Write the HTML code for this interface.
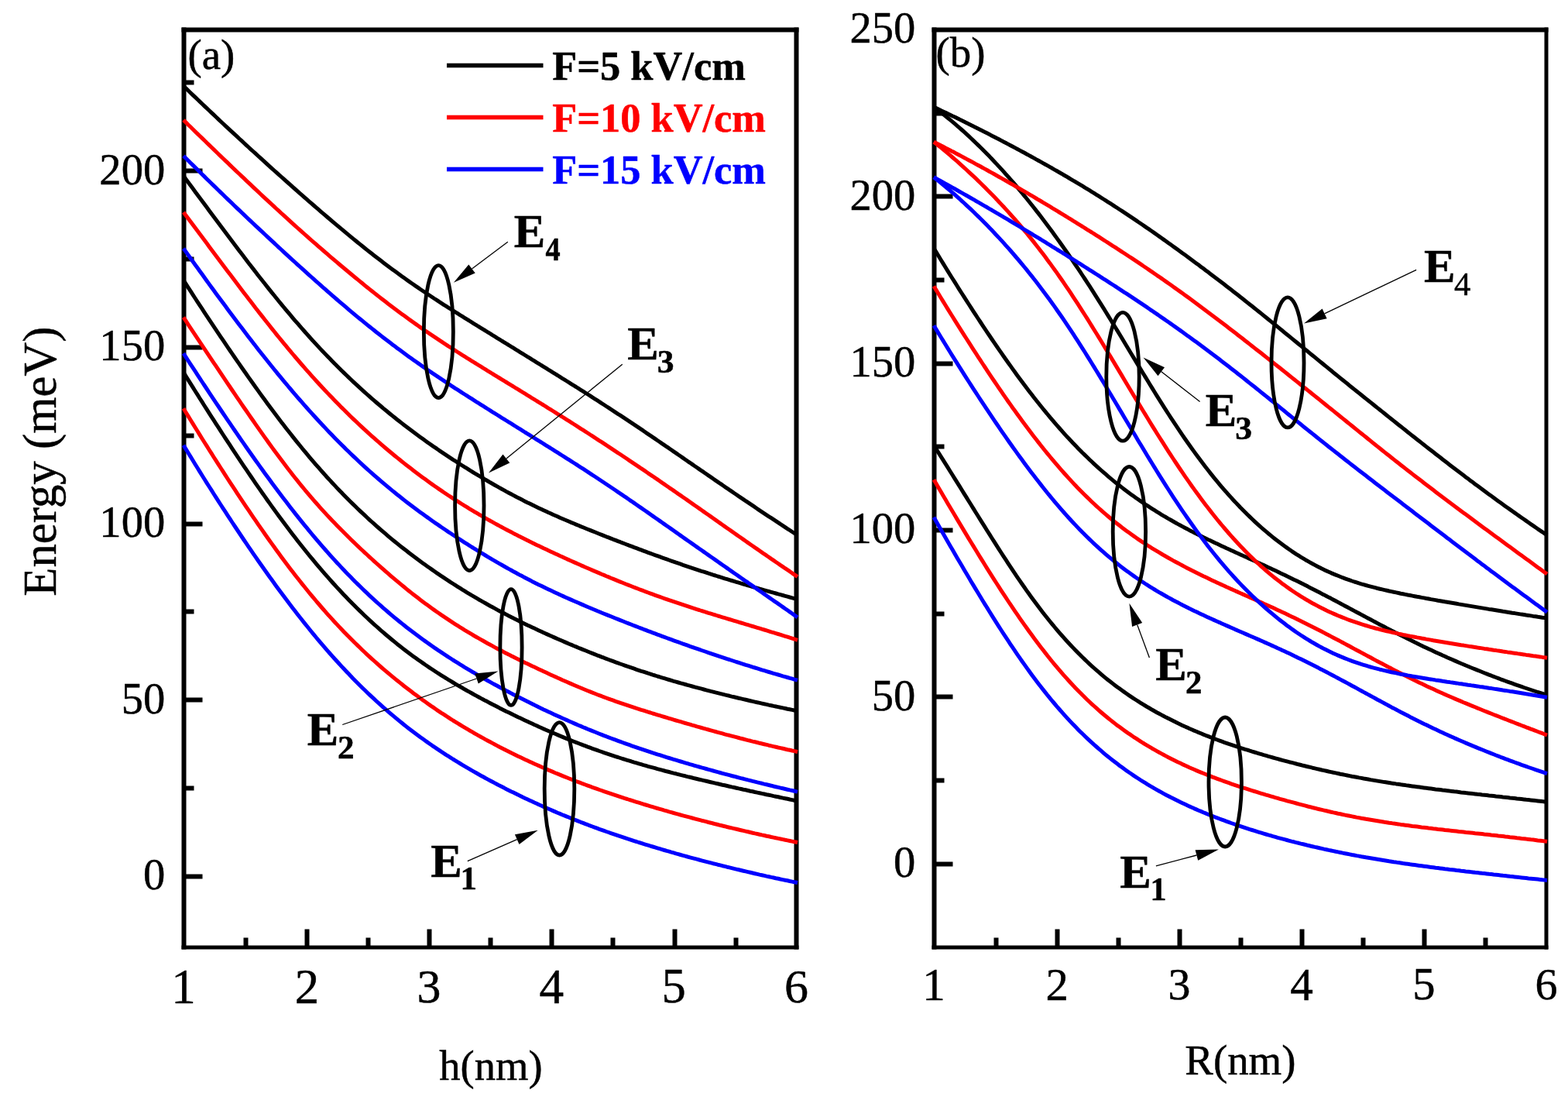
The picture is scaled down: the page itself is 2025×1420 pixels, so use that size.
<!DOCTYPE html>
<html lang="en"><head><meta charset="utf-8"><title>Energy levels versus h and R</title>
<style>html,body{margin:0;padding:0;background:#fff}body{width:2025px;height:1420px;overflow:hidden}svg{display:block}text{font-family:"Liberation Serif","Times New Roman",serif;stroke-width:0.5px;stroke-linejoin:round}</style></head><body>
<svg xmlns="http://www.w3.org/2000/svg" width="2025" height="1420" viewBox="0 0 2025 1420">
<rect width="2025" height="1420" fill="#fff"/>
<g stroke="#000">
<rect x="235" y="36" width="5" height="1189" fill="#000"/>
<rect x="1026" y="36" width="5" height="1189" fill="#000"/>
<rect x="235" y="36" width="796" height="5" fill="#000"/>
<rect x="235" y="1221" width="796" height="4" fill="#000"/>
<text transform="translate(221.28,1294.60) scale(1.0000,1.0000)" font-size="63.03" font-weight="normal" fill="#000">1</text>
<rect x="315" y="1211" width="5" height="11" fill="#000"/>
<rect x="394" y="1200" width="5" height="22" fill="#000"/>
<text transform="translate(380.72,1294.60) scale(1.0000,1.0000)" font-size="62.79" font-weight="normal" fill="#000">2</text>
<rect x="473" y="1211" width="5" height="11" fill="#000"/>
<rect x="552" y="1200" width="5" height="22" fill="#000"/>
<text transform="translate(538.60,1293.98) scale(1.0000,1.0000)" font-size="61.86" font-weight="normal" fill="#000">3</text>
<rect x="631" y="1211" width="5" height="11" fill="#000"/>
<rect x="710" y="1200" width="5" height="22" fill="#000"/>
<text transform="translate(696.52,1294.60) scale(1.0000,1.0000)" font-size="63.27" font-weight="normal" fill="#000">4</text>
<rect x="789" y="1211" width="5" height="11" fill="#000"/>
<rect x="869" y="1200" width="5" height="22" fill="#000"/>
<text transform="translate(854.51,1293.97) scale(1.0000,1.0000)" font-size="62.56" font-weight="normal" fill="#000">5</text>
<rect x="948" y="1211" width="5" height="11" fill="#000"/>
<text transform="translate(1013.05,1293.98) scale(1.0000,1.0000)" font-size="61.86" font-weight="normal" fill="#000">6</text>
<rect x="239" y="1129" width="22" height="5" fill="#000"/>
<text transform="translate(184.93,1148.32) scale(0.9767,1.0000)" font-size="57.93" font-weight="normal" fill="#000">0</text>
<rect x="239" y="901" width="22" height="5" fill="#000"/>
<text transform="translate(156.64,920.62) scale(0.9767,1.0000)" font-size="57.93" font-weight="normal" fill="#000">50</text>
<rect x="239" y="674" width="22" height="5" fill="#000"/>
<text transform="translate(128.35,692.92) scale(0.9767,1.0000)" font-size="57.93" font-weight="normal" fill="#000">100</text>
<rect x="239" y="446" width="22" height="5" fill="#000"/>
<text transform="translate(128.35,465.22) scale(0.9767,1.0000)" font-size="57.93" font-weight="normal" fill="#000">150</text>
<rect x="239" y="218" width="22" height="5" fill="#000"/>
<text transform="translate(128.35,237.52) scale(0.9767,1.0000)" font-size="57.93" font-weight="normal" fill="#000">200</text>
<rect x="239" y="1015" width="11" height="5" fill="#000"/>
<rect x="239" y="787" width="11" height="5" fill="#000"/>
<rect x="239" y="560" width="11" height="5" fill="#000"/>
<rect x="239" y="332" width="11" height="5" fill="#000"/>
<rect x="239" y="104" width="11" height="5" fill="#000"/>
<path d="M237.0 480.6 L240.0 485.5 L243.0 490.3 L246.0 495.1 L249.0 499.9 L252.0 504.7 L255.0 509.4 L258.0 514.2 L261.0 518.9 L264.0 523.7 L267.0 528.4 L270.0 533.1 L273.0 537.8 L276.0 542.4 L279.0 547.1 L282.0 551.7 L285.0 556.4 L288.0 561.0 L291.0 565.6 L294.0 570.2 L297.0 574.7 L300.0 579.3 L303.0 583.8 L306.0 588.3 L309.0 592.8 L312.0 597.3 L315.0 601.8 L318.0 606.2 L321.0 610.6 L324.0 615.0 L327.0 619.4 L330.0 623.8 L333.0 628.1 L336.0 632.4 L339.0 636.7 L342.0 640.9 L345.0 645.2 L348.0 649.4 L351.0 653.6 L354.0 657.7 L357.0 661.9 L360.0 666.0 L363.0 670.0 L366.0 674.1 L369.0 678.1 L372.0 682.1 L375.0 686.0 L378.0 689.9 L381.0 693.8 L384.0 697.7 L387.0 701.5 L390.0 705.3 L393.0 709.0 L396.0 712.8 L399.0 716.5 L402.0 720.1 L405.0 723.7 L408.0 727.3 L411.0 730.9 L414.0 734.4 L417.0 737.9 L420.0 741.3 L423.0 744.7 L426.0 748.1 L429.0 751.5 L432.0 754.8 L435.0 758.1 L438.0 761.3 L441.0 764.5 L444.0 767.7 L447.0 770.8 L450.0 773.9 L453.0 777.0 L456.0 780.0 L459.0 783.0 L462.0 786.0 L465.0 788.9 L468.0 791.8 L471.0 794.7 L474.0 797.5 L477.0 800.3 L480.0 803.1 L483.0 805.8 L486.0 808.5 L489.0 811.2 L492.0 813.8 L495.0 816.4 L498.0 819.0 L501.0 821.5 L504.0 824.0 L507.0 826.5 L510.0 828.9 L513.0 831.4 L516.0 833.7 L519.0 836.1 L522.0 838.4 L525.0 840.7 L528.0 843.0 L531.0 845.2 L534.0 847.4 L537.0 849.6 L540.0 851.7 L543.0 853.8 L546.0 855.9 L549.0 858.0 L552.0 860.0 L555.0 862.1 L558.0 864.0 L561.0 866.0 L564.0 868.0 L567.0 869.9 L570.0 871.8 L573.0 873.7 L576.0 875.5 L579.0 877.4 L582.0 879.2 L585.0 881.0 L588.0 882.8 L591.0 884.6 L594.0 886.3 L597.0 888.0 L600.0 889.8 L603.0 891.5 L606.0 893.1 L609.0 894.8 L612.0 896.5 L615.0 898.1 L618.0 899.7 L621.0 901.4 L624.0 903.0 L627.0 904.6 L630.0 906.1 L633.0 907.7 L636.0 909.3 L639.0 910.8 L642.0 912.3 L645.0 913.9 L648.0 915.4 L651.0 916.9 L654.0 918.4 L657.0 919.8 L660.0 921.3 L663.0 922.8 L666.0 924.2 L669.0 925.7 L672.0 927.1 L675.0 928.5 L678.0 929.9 L681.0 931.3 L684.0 932.7 L687.0 934.1 L690.0 935.5 L693.0 936.8 L696.0 938.2 L699.0 939.5 L702.0 940.9 L705.0 942.2 L708.0 943.5 L711.0 944.8 L714.0 946.1 L717.0 947.3 L720.0 948.6 L723.0 949.9 L726.0 951.1 L729.0 952.4 L732.0 953.6 L735.0 954.8 L738.0 956.0 L741.0 957.2 L744.0 958.4 L747.0 959.5 L750.0 960.7 L753.0 961.8 L756.0 962.9 L759.0 964.1 L762.0 965.2 L765.0 966.3 L768.0 967.3 L771.0 968.4 L774.0 969.5 L777.0 970.5 L780.0 971.6 L783.0 972.6 L786.0 973.6 L789.0 974.6 L792.0 975.6 L795.0 976.6 L798.0 977.5 L801.0 978.5 L804.0 979.5 L807.0 980.4 L810.0 981.3 L813.0 982.2 L816.0 983.2 L819.0 984.1 L822.0 984.9 L825.0 985.8 L828.0 986.7 L831.0 987.6 L834.0 988.4 L837.0 989.3 L840.0 990.1 L843.0 990.9 L846.0 991.7 L849.0 992.6 L852.0 993.4 L855.0 994.2 L858.0 995.0 L861.0 995.8 L864.0 996.5 L867.0 997.3 L870.0 998.1 L873.0 998.8 L876.0 999.6 L879.0 1000.4 L882.0 1001.1 L885.0 1001.8 L888.0 1002.6 L891.0 1003.3 L894.0 1004.0 L897.0 1004.8 L900.0 1005.5 L903.0 1006.2 L906.0 1006.9 L909.0 1007.6 L912.0 1008.3 L915.0 1009.0 L918.0 1009.7 L921.0 1010.4 L924.0 1011.1 L927.0 1011.8 L930.0 1012.5 L933.0 1013.2 L936.0 1013.8 L939.0 1014.5 L942.0 1015.2 L945.0 1015.9 L948.0 1016.5 L951.0 1017.2 L954.0 1017.9 L957.0 1018.5 L960.0 1019.2 L963.0 1019.8 L966.0 1020.5 L969.0 1021.2 L972.0 1021.8 L975.0 1022.5 L978.0 1023.1 L981.0 1023.7 L984.0 1024.4 L987.0 1025.0 L990.0 1025.7 L993.0 1026.3 L996.0 1026.9 L999.0 1027.6 L1002.0 1028.2 L1005.0 1028.8 L1008.0 1029.5 L1011.0 1030.1 L1014.0 1030.7 L1017.0 1031.3 L1020.0 1032.0 L1023.0 1032.6 L1026.0 1033.2 L1029.0 1033.8 L1030.0 1034.0" fill="none" stroke="#000000" stroke-width="5.0" stroke-linejoin="round"/>
<path d="M237.0 361.8 L240.0 366.4 L243.0 371.1 L246.0 375.7 L249.0 380.4 L252.0 385.0 L255.0 389.6 L258.0 394.2 L261.0 398.7 L264.0 403.3 L267.0 407.8 L270.0 412.4 L273.0 416.9 L276.0 421.4 L279.0 425.9 L282.0 430.3 L285.0 434.8 L288.0 439.2 L291.0 443.7 L294.0 448.1 L297.0 452.5 L300.0 456.9 L303.0 461.2 L306.0 465.6 L309.0 469.9 L312.0 474.2 L315.0 478.5 L318.0 482.8 L321.0 487.1 L324.0 491.3 L327.0 495.5 L330.0 499.7 L333.0 503.9 L336.0 508.1 L339.0 512.2 L342.0 516.3 L345.0 520.4 L348.0 524.5 L351.0 528.5 L354.0 532.5 L357.0 536.5 L360.0 540.5 L363.0 544.4 L366.0 548.3 L369.0 552.2 L372.0 556.0 L375.0 559.8 L378.0 563.6 L381.0 567.4 L384.0 571.1 L387.0 574.8 L390.0 578.5 L393.0 582.1 L396.0 585.7 L399.0 589.3 L402.0 592.8 L405.0 596.3 L408.0 599.8 L411.0 603.2 L414.0 606.6 L417.0 610.0 L420.0 613.4 L423.0 616.7 L426.0 619.9 L429.0 623.2 L432.0 626.4 L435.0 629.6 L438.0 632.7 L441.0 635.8 L444.0 638.9 L447.0 642.0 L450.0 645.0 L453.0 648.0 L456.0 650.9 L459.0 653.8 L462.0 656.7 L465.0 659.6 L468.0 662.4 L471.0 665.2 L474.0 668.0 L477.0 670.8 L480.0 673.5 L483.0 676.2 L486.0 678.9 L489.0 681.5 L492.0 684.1 L495.0 686.7 L498.0 689.2 L501.0 691.8 L504.0 694.3 L507.0 696.8 L510.0 699.2 L513.0 701.7 L516.0 704.1 L519.0 706.4 L522.0 708.8 L525.0 711.1 L528.0 713.5 L531.0 715.8 L534.0 718.0 L537.0 720.3 L540.0 722.5 L543.0 724.7 L546.0 726.9 L549.0 729.1 L552.0 731.2 L555.0 733.3 L558.0 735.4 L561.0 737.5 L564.0 739.6 L567.0 741.6 L570.0 743.7 L573.0 745.7 L576.0 747.7 L579.0 749.6 L582.0 751.6 L585.0 753.5 L588.0 755.4 L591.0 757.3 L594.0 759.2 L597.0 761.1 L600.0 762.9 L603.0 764.8 L606.0 766.6 L609.0 768.4 L612.0 770.1 L615.0 771.9 L618.0 773.7 L621.0 775.4 L624.0 777.1 L627.0 778.8 L630.0 780.5 L633.0 782.2 L636.0 783.8 L639.0 785.4 L642.0 787.1 L645.0 788.7 L648.0 790.3 L651.0 791.8 L654.0 793.4 L657.0 795.0 L660.0 796.5 L663.0 798.0 L666.0 799.5 L669.0 801.0 L672.0 802.5 L675.0 804.0 L678.0 805.4 L681.0 806.9 L684.0 808.3 L687.0 809.7 L690.0 811.1 L693.0 812.5 L696.0 813.9 L699.0 815.3 L702.0 816.7 L705.0 818.1 L708.0 819.4 L711.0 820.7 L714.0 822.1 L717.0 823.4 L720.0 824.7 L723.0 826.0 L726.0 827.3 L729.0 828.6 L732.0 829.9 L735.0 831.2 L738.0 832.4 L741.0 833.7 L744.0 834.9 L747.0 836.2 L750.0 837.4 L753.0 838.6 L756.0 839.8 L759.0 841.0 L762.0 842.2 L765.0 843.4 L768.0 844.6 L771.0 845.8 L774.0 846.9 L777.0 848.1 L780.0 849.2 L783.0 850.4 L786.0 851.5 L789.0 852.6 L792.0 853.7 L795.0 854.8 L798.0 855.9 L801.0 857.0 L804.0 858.0 L807.0 859.1 L810.0 860.2 L813.0 861.2 L816.0 862.2 L819.0 863.2 L822.0 864.3 L825.0 865.3 L828.0 866.3 L831.0 867.2 L834.0 868.2 L837.0 869.2 L840.0 870.1 L843.0 871.1 L846.0 872.0 L849.0 873.0 L852.0 873.9 L855.0 874.8 L858.0 875.7 L861.0 876.6 L864.0 877.5 L867.0 878.4 L870.0 879.3 L873.0 880.1 L876.0 881.0 L879.0 881.9 L882.0 882.7 L885.0 883.5 L888.0 884.4 L891.0 885.2 L894.0 886.0 L897.0 886.8 L900.0 887.6 L903.0 888.4 L906.0 889.2 L909.0 890.0 L912.0 890.8 L915.0 891.6 L918.0 892.4 L921.0 893.1 L924.0 893.9 L927.0 894.6 L930.0 895.4 L933.0 896.1 L936.0 896.9 L939.0 897.6 L942.0 898.3 L945.0 899.1 L948.0 899.8 L951.0 900.5 L954.0 901.2 L957.0 901.9 L960.0 902.6 L963.0 903.3 L966.0 904.0 L969.0 904.7 L972.0 905.4 L975.0 906.1 L978.0 906.8 L981.0 907.4 L984.0 908.1 L987.0 908.8 L990.0 909.4 L993.0 910.1 L996.0 910.7 L999.0 911.4 L1002.0 912.0 L1005.0 912.6 L1008.0 913.3 L1011.0 913.9 L1014.0 914.5 L1017.0 915.2 L1020.0 915.8 L1023.0 916.4 L1026.0 917.0 L1029.0 917.6 L1030.0 917.8" fill="none" stroke="#000000" stroke-width="5.0" stroke-linejoin="round"/>
<path d="M237.0 227.1 L240.0 231.2 L243.0 235.2 L246.0 239.3 L249.0 243.3 L252.0 247.4 L255.0 251.5 L258.0 255.5 L261.0 259.5 L264.0 263.6 L267.0 267.6 L270.0 271.7 L273.0 275.7 L276.0 279.7 L279.0 283.8 L282.0 287.8 L285.0 291.8 L288.0 295.8 L291.0 299.8 L294.0 303.8 L297.0 307.8 L300.0 311.8 L303.0 315.7 L306.0 319.7 L309.0 323.7 L312.0 327.6 L315.0 331.5 L318.0 335.5 L321.0 339.4 L324.0 343.3 L327.0 347.1 L330.0 351.0 L333.0 354.9 L336.0 358.7 L339.0 362.5 L342.0 366.3 L345.0 370.1 L348.0 373.9 L351.0 377.6 L354.0 381.3 L357.0 385.0 L360.0 388.7 L363.0 392.3 L366.0 396.0 L369.0 399.6 L372.0 403.2 L375.0 406.7 L378.0 410.3 L381.0 413.8 L384.0 417.2 L387.0 420.7 L390.0 424.1 L393.0 427.5 L396.0 430.9 L399.0 434.2 L402.0 437.6 L405.0 440.9 L408.0 444.1 L411.0 447.4 L414.0 450.6 L417.0 453.7 L420.0 456.9 L423.0 460.0 L426.0 463.1 L429.0 466.2 L432.0 469.2 L435.0 472.2 L438.0 475.2 L441.0 478.2 L444.0 481.1 L447.0 484.0 L450.0 486.9 L453.0 489.8 L456.0 492.6 L459.0 495.4 L462.0 498.2 L465.0 500.9 L468.0 503.6 L471.0 506.3 L474.0 509.0 L477.0 511.7 L480.0 514.3 L483.0 516.9 L486.0 519.5 L489.0 522.0 L492.0 524.5 L495.0 527.1 L498.0 529.5 L501.0 532.0 L504.0 534.5 L507.0 536.9 L510.0 539.3 L513.0 541.7 L516.0 544.0 L519.0 546.4 L522.0 548.7 L525.0 551.0 L528.0 553.3 L531.0 555.5 L534.0 557.8 L537.0 560.0 L540.0 562.2 L543.0 564.4 L546.0 566.6 L549.0 568.7 L552.0 570.9 L555.0 573.0 L558.0 575.1 L561.0 577.2 L564.0 579.2 L567.0 581.3 L570.0 583.3 L573.0 585.3 L576.0 587.3 L579.0 589.3 L582.0 591.3 L585.0 593.3 L588.0 595.2 L591.0 597.1 L594.0 599.1 L597.0 601.0 L600.0 602.9 L603.0 604.7 L606.0 606.6 L609.0 608.5 L612.0 610.3 L615.0 612.1 L618.0 613.9 L621.0 615.7 L624.0 617.5 L627.0 619.3 L630.0 621.0 L633.0 622.8 L636.0 624.5 L639.0 626.2 L642.0 627.9 L645.0 629.6 L648.0 631.3 L651.0 632.9 L654.0 634.6 L657.0 636.2 L660.0 637.8 L663.0 639.4 L666.0 641.0 L669.0 642.6 L672.0 644.1 L675.0 645.6 L678.0 647.2 L681.0 648.7 L684.0 650.1 L687.0 651.6 L690.0 653.1 L693.0 654.5 L696.0 655.9 L699.0 657.3 L702.0 658.7 L705.0 660.1 L708.0 661.5 L711.0 662.8 L714.0 664.2 L717.0 665.5 L720.0 666.8 L723.0 668.2 L726.0 669.5 L729.0 670.8 L732.0 672.0 L735.0 673.3 L738.0 674.6 L741.0 675.8 L744.0 677.1 L747.0 678.3 L750.0 679.6 L753.0 680.8 L756.0 682.0 L759.0 683.2 L762.0 684.4 L765.0 685.6 L768.0 686.8 L771.0 688.0 L774.0 689.2 L777.0 690.4 L780.0 691.6 L783.0 692.8 L786.0 693.9 L789.0 695.1 L792.0 696.3 L795.0 697.4 L798.0 698.6 L801.0 699.7 L804.0 700.9 L807.0 702.0 L810.0 703.2 L813.0 704.3 L816.0 705.4 L819.0 706.6 L822.0 707.7 L825.0 708.8 L828.0 709.9 L831.0 711.1 L834.0 712.2 L837.0 713.3 L840.0 714.4 L843.0 715.5 L846.0 716.6 L849.0 717.6 L852.0 718.7 L855.0 719.8 L858.0 720.9 L861.0 721.9 L864.0 723.0 L867.0 724.1 L870.0 725.1 L873.0 726.2 L876.0 727.2 L879.0 728.2 L882.0 729.3 L885.0 730.3 L888.0 731.3 L891.0 732.3 L894.0 733.3 L897.0 734.3 L900.0 735.3 L903.0 736.3 L906.0 737.3 L909.0 738.2 L912.0 739.2 L915.0 740.2 L918.0 741.1 L921.0 742.1 L924.0 743.0 L927.0 744.0 L930.0 744.9 L933.0 745.8 L936.0 746.8 L939.0 747.7 L942.0 748.6 L945.0 749.5 L948.0 750.4 L951.0 751.3 L954.0 752.2 L957.0 753.1 L960.0 754.0 L963.0 754.9 L966.0 755.8 L969.0 756.6 L972.0 757.5 L975.0 758.4 L978.0 759.2 L981.0 760.1 L984.0 761.0 L987.0 761.8 L990.0 762.7 L993.0 763.5 L996.0 764.3 L999.0 765.2 L1002.0 766.0 L1005.0 766.9 L1008.0 767.7 L1011.0 768.5 L1014.0 769.3 L1017.0 770.1 L1020.0 771.0 L1023.0 771.8 L1026.0 772.6 L1029.0 773.4 L1030.0 773.7" fill="none" stroke="#000000" stroke-width="5.0" stroke-linejoin="round"/>
<path d="M237.0 111.0 L240.0 113.9 L243.0 116.8 L246.0 119.7 L249.0 122.6 L252.0 125.4 L255.0 128.3 L258.0 131.1 L261.0 134.0 L264.0 136.9 L267.0 139.7 L270.0 142.5 L273.0 145.4 L276.0 148.2 L279.0 151.0 L282.0 153.8 L285.0 156.7 L288.0 159.5 L291.0 162.3 L294.0 165.1 L297.0 167.9 L300.0 170.6 L303.0 173.4 L306.0 176.2 L309.0 179.0 L312.0 181.7 L315.0 184.5 L318.0 187.3 L321.0 190.0 L324.0 192.8 L327.0 195.5 L330.0 198.2 L333.0 201.0 L336.0 203.7 L339.0 206.4 L342.0 209.1 L345.0 211.9 L348.0 214.6 L351.0 217.3 L354.0 220.0 L357.0 222.7 L360.0 225.3 L363.0 228.0 L366.0 230.7 L369.0 233.4 L372.0 236.0 L375.0 238.7 L378.0 241.4 L381.0 244.0 L384.0 246.7 L387.0 249.3 L390.0 251.9 L393.0 254.6 L396.0 257.2 L399.0 259.8 L402.0 262.4 L405.0 265.0 L408.0 267.6 L411.0 270.2 L414.0 272.8 L417.0 275.3 L420.0 277.9 L423.0 280.5 L426.0 283.0 L429.0 285.6 L432.0 288.1 L435.0 290.6 L438.0 293.2 L441.0 295.7 L444.0 298.2 L447.0 300.7 L450.0 303.1 L453.0 305.6 L456.0 308.1 L459.0 310.5 L462.0 313.0 L465.0 315.4 L468.0 317.8 L471.0 320.2 L474.0 322.6 L477.0 325.0 L480.0 327.3 L483.0 329.7 L486.0 332.0 L489.0 334.3 L492.0 336.6 L495.0 338.9 L498.0 341.2 L501.0 343.5 L504.0 345.7 L507.0 347.9 L510.0 350.1 L513.0 352.3 L516.0 354.5 L519.0 356.7 L522.0 358.8 L525.0 361.0 L528.0 363.1 L531.0 365.2 L534.0 367.3 L537.0 369.4 L540.0 371.4 L543.0 373.5 L546.0 375.5 L549.0 377.5 L552.0 379.5 L555.0 381.5 L558.0 383.5 L561.0 385.5 L564.0 387.4 L567.0 389.4 L570.0 391.3 L573.0 393.3 L576.0 395.2 L579.0 397.1 L582.0 399.0 L585.0 400.9 L588.0 402.8 L591.0 404.7 L594.0 406.6 L597.0 408.4 L600.0 410.3 L603.0 412.2 L606.0 414.0 L609.0 415.9 L612.0 417.8 L615.0 419.6 L618.0 421.5 L621.0 423.3 L624.0 425.2 L627.0 427.0 L630.0 428.9 L633.0 430.7 L636.0 432.6 L639.0 434.4 L642.0 436.3 L645.0 438.1 L648.0 440.0 L651.0 441.8 L654.0 443.7 L657.0 445.5 L660.0 447.4 L663.0 449.2 L666.0 451.1 L669.0 452.9 L672.0 454.8 L675.0 456.6 L678.0 458.5 L681.0 460.4 L684.0 462.2 L687.0 464.1 L690.0 465.9 L693.0 467.8 L696.0 469.6 L699.0 471.5 L702.0 473.3 L705.0 475.2 L708.0 477.1 L711.0 478.9 L714.0 480.8 L717.0 482.7 L720.0 484.5 L723.0 486.4 L726.0 488.3 L729.0 490.1 L732.0 492.0 L735.0 493.9 L738.0 495.8 L741.0 497.7 L744.0 499.5 L747.0 501.4 L750.0 503.3 L753.0 505.2 L756.0 507.1 L759.0 509.0 L762.0 510.9 L765.0 512.9 L768.0 514.8 L771.0 516.7 L774.0 518.6 L777.0 520.6 L780.0 522.5 L783.0 524.5 L786.0 526.4 L789.0 528.4 L792.0 530.3 L795.0 532.3 L798.0 534.3 L801.0 536.2 L804.0 538.2 L807.0 540.2 L810.0 542.2 L813.0 544.2 L816.0 546.2 L819.0 548.2 L822.0 550.2 L825.0 552.2 L828.0 554.2 L831.0 556.2 L834.0 558.3 L837.0 560.3 L840.0 562.3 L843.0 564.4 L846.0 566.4 L849.0 568.5 L852.0 570.5 L855.0 572.6 L858.0 574.6 L861.0 576.7 L864.0 578.7 L867.0 580.8 L870.0 582.9 L873.0 584.9 L876.0 587.0 L879.0 589.0 L882.0 591.1 L885.0 593.2 L888.0 595.3 L891.0 597.3 L894.0 599.4 L897.0 601.5 L900.0 603.5 L903.0 605.6 L906.0 607.7 L909.0 609.7 L912.0 611.8 L915.0 613.9 L918.0 615.9 L921.0 618.0 L924.0 620.1 L927.0 622.1 L930.0 624.2 L933.0 626.2 L936.0 628.3 L939.0 630.3 L942.0 632.4 L945.0 634.4 L948.0 636.5 L951.0 638.5 L954.0 640.6 L957.0 642.6 L960.0 644.6 L963.0 646.7 L966.0 648.7 L969.0 650.7 L972.0 652.7 L975.0 654.7 L978.0 656.8 L981.0 658.8 L984.0 660.8 L987.0 662.8 L990.0 664.8 L993.0 666.8 L996.0 668.7 L999.0 670.7 L1002.0 672.7 L1005.0 674.7 L1008.0 676.7 L1011.0 678.6 L1014.0 680.6 L1017.0 682.6 L1020.0 684.5 L1023.0 686.5 L1026.0 688.4 L1029.0 690.4 L1030.0 691.0" fill="none" stroke="#000000" stroke-width="5.0" stroke-linejoin="round"/>
<path d="M237.0 527.3 L240.0 532.2 L243.0 537.1 L246.0 542.0 L249.0 546.8 L252.0 551.7 L255.0 556.5 L258.0 561.4 L261.0 566.2 L264.0 571.0 L267.0 575.7 L270.0 580.5 L273.0 585.2 L276.0 590.0 L279.0 594.7 L282.0 599.4 L285.0 604.0 L288.0 608.7 L291.0 613.3 L294.0 618.0 L297.0 622.6 L300.0 627.2 L303.0 631.7 L306.0 636.3 L309.0 640.8 L312.0 645.3 L315.0 649.8 L318.0 654.3 L321.0 658.7 L324.0 663.2 L327.0 667.6 L330.0 671.9 L333.0 676.3 L336.0 680.6 L339.0 684.9 L342.0 689.2 L345.0 693.5 L348.0 697.7 L351.0 701.9 L354.0 706.0 L357.0 710.2 L360.0 714.3 L363.0 718.4 L366.0 722.4 L369.0 726.4 L372.0 730.4 L375.0 734.4 L378.0 738.3 L381.0 742.2 L384.0 746.0 L387.0 749.8 L390.0 753.6 L393.0 757.3 L396.0 761.0 L399.0 764.7 L402.0 768.3 L405.0 771.9 L408.0 775.5 L411.0 779.0 L414.0 782.5 L417.0 786.0 L420.0 789.4 L423.0 792.8 L426.0 796.1 L429.0 799.4 L432.0 802.7 L435.0 805.9 L438.0 809.1 L441.0 812.3 L444.0 815.4 L447.0 818.5 L450.0 821.5 L453.0 824.6 L456.0 827.6 L459.0 830.5 L462.0 833.4 L465.0 836.3 L468.0 839.2 L471.0 842.0 L474.0 844.8 L477.0 847.6 L480.0 850.3 L483.0 853.0 L486.0 855.7 L489.0 858.4 L492.0 861.0 L495.0 863.6 L498.0 866.1 L501.0 868.7 L504.0 871.2 L507.0 873.7 L510.0 876.1 L513.0 878.5 L516.0 880.9 L519.0 883.3 L522.0 885.7 L525.0 888.0 L528.0 890.3 L531.0 892.6 L534.0 894.9 L537.0 897.1 L540.0 899.3 L543.0 901.5 L546.0 903.7 L549.0 905.8 L552.0 908.0 L555.0 910.1 L558.0 912.2 L561.0 914.2 L564.0 916.3 L567.0 918.3 L570.0 920.3 L573.0 922.2 L576.0 924.2 L579.0 926.1 L582.0 928.1 L585.0 930.0 L588.0 931.8 L591.0 933.7 L594.0 935.5 L597.0 937.3 L600.0 939.1 L603.0 940.9 L606.0 942.7 L609.0 944.4 L612.0 946.2 L615.0 947.9 L618.0 949.6 L621.0 951.3 L624.0 952.9 L627.0 954.6 L630.0 956.2 L633.0 957.8 L636.0 959.4 L639.0 961.0 L642.0 962.6 L645.0 964.2 L648.0 965.7 L651.0 967.2 L654.0 968.8 L657.0 970.3 L660.0 971.8 L663.0 973.2 L666.0 974.7 L669.0 976.2 L672.0 977.6 L675.0 979.0 L678.0 980.4 L681.0 981.8 L684.0 983.2 L687.0 984.6 L690.0 986.0 L693.0 987.3 L696.0 988.6 L699.0 990.0 L702.0 991.3 L705.0 992.6 L708.0 993.9 L711.0 995.1 L714.0 996.4 L717.0 997.7 L720.0 998.9 L723.0 1000.1 L726.0 1001.4 L729.0 1002.6 L732.0 1003.8 L735.0 1005.0 L738.0 1006.1 L741.0 1007.3 L744.0 1008.5 L747.0 1009.6 L750.0 1010.7 L753.0 1011.9 L756.0 1013.0 L759.0 1014.1 L762.0 1015.2 L765.0 1016.3 L768.0 1017.3 L771.0 1018.4 L774.0 1019.5 L777.0 1020.5 L780.0 1021.6 L783.0 1022.6 L786.0 1023.6 L789.0 1024.6 L792.0 1025.6 L795.0 1026.6 L798.0 1027.6 L801.0 1028.6 L804.0 1029.6 L807.0 1030.6 L810.0 1031.5 L813.0 1032.5 L816.0 1033.4 L819.0 1034.4 L822.0 1035.3 L825.0 1036.2 L828.0 1037.2 L831.0 1038.1 L834.0 1039.0 L837.0 1039.9 L840.0 1040.8 L843.0 1041.7 L846.0 1042.6 L849.0 1043.5 L852.0 1044.3 L855.0 1045.2 L858.0 1046.1 L861.0 1046.9 L864.0 1047.8 L867.0 1048.6 L870.0 1049.5 L873.0 1050.3 L876.0 1051.1 L879.0 1052.0 L882.0 1052.8 L885.0 1053.6 L888.0 1054.4 L891.0 1055.2 L894.0 1056.0 L897.0 1056.8 L900.0 1057.6 L903.0 1058.4 L906.0 1059.2 L909.0 1059.9 L912.0 1060.7 L915.0 1061.5 L918.0 1062.2 L921.0 1063.0 L924.0 1063.8 L927.0 1064.5 L930.0 1065.3 L933.0 1066.0 L936.0 1066.7 L939.0 1067.5 L942.0 1068.2 L945.0 1068.9 L948.0 1069.6 L951.0 1070.3 L954.0 1071.0 L957.0 1071.7 L960.0 1072.4 L963.0 1073.1 L966.0 1073.8 L969.0 1074.5 L972.0 1075.2 L975.0 1075.9 L978.0 1076.5 L981.0 1077.2 L984.0 1077.9 L987.0 1078.5 L990.0 1079.2 L993.0 1079.8 L996.0 1080.5 L999.0 1081.1 L1002.0 1081.8 L1005.0 1082.4 L1008.0 1083.0 L1011.0 1083.6 L1014.0 1084.3 L1017.0 1084.9 L1020.0 1085.5 L1023.0 1086.1 L1026.0 1086.7 L1029.0 1087.3 L1030.0 1087.5" fill="none" stroke="#ff0000" stroke-width="5.0" stroke-linejoin="round"/>
<path d="M237.0 409.7 L240.0 414.2 L243.0 418.8 L246.0 423.3 L249.0 427.8 L252.0 432.3 L255.0 436.8 L258.0 441.3 L261.0 445.8 L264.0 450.3 L267.0 454.8 L270.0 459.3 L273.0 463.8 L276.0 468.3 L279.0 472.7 L282.0 477.2 L285.0 481.7 L288.0 486.2 L291.0 490.6 L294.0 495.1 L297.0 499.5 L300.0 504.0 L303.0 508.4 L306.0 512.8 L309.0 517.2 L312.0 521.6 L315.0 526.0 L318.0 530.3 L321.0 534.7 L324.0 539.0 L327.0 543.3 L330.0 547.6 L333.0 551.9 L336.0 556.1 L339.0 560.4 L342.0 564.6 L345.0 568.8 L348.0 572.9 L351.0 577.1 L354.0 581.2 L357.0 585.2 L360.0 589.3 L363.0 593.3 L366.0 597.3 L369.0 601.2 L372.0 605.2 L375.0 609.0 L378.0 612.9 L381.0 616.7 L384.0 620.4 L387.0 624.2 L390.0 627.9 L393.0 631.5 L396.0 635.1 L399.0 638.6 L402.0 642.2 L405.0 645.6 L408.0 649.0 L411.0 652.4 L414.0 655.8 L417.0 659.1 L420.0 662.4 L423.0 665.6 L426.0 668.8 L429.0 672.0 L432.0 675.1 L435.0 678.2 L438.0 681.3 L441.0 684.3 L444.0 687.3 L447.0 690.3 L450.0 693.3 L453.0 696.2 L456.0 699.1 L459.0 702.0 L462.0 704.8 L465.0 707.7 L468.0 710.5 L471.0 713.3 L474.0 716.0 L477.0 718.8 L480.0 721.5 L483.0 724.3 L486.0 727.0 L489.0 729.6 L492.0 732.3 L495.0 734.9 L498.0 737.6 L501.0 740.2 L504.0 742.8 L507.0 745.3 L510.0 747.9 L513.0 750.4 L516.0 752.9 L519.0 755.4 L522.0 757.8 L525.0 760.3 L528.0 762.7 L531.0 765.1 L534.0 767.4 L537.0 769.8 L540.0 772.1 L543.0 774.4 L546.0 776.7 L549.0 778.9 L552.0 781.1 L555.0 783.3 L558.0 785.5 L561.0 787.6 L564.0 789.7 L567.0 791.8 L570.0 793.9 L573.0 795.9 L576.0 797.9 L579.0 799.9 L582.0 801.9 L585.0 803.9 L588.0 805.8 L591.0 807.7 L594.0 809.6 L597.0 811.4 L600.0 813.3 L603.0 815.1 L606.0 816.9 L609.0 818.7 L612.0 820.5 L615.0 822.2 L618.0 823.9 L621.0 825.6 L624.0 827.3 L627.0 829.0 L630.0 830.7 L633.0 832.3 L636.0 833.9 L639.0 835.6 L642.0 837.2 L645.0 838.7 L648.0 840.3 L651.0 841.9 L654.0 843.4 L657.0 844.9 L660.0 846.5 L663.0 848.0 L666.0 849.5 L669.0 850.9 L672.0 852.4 L675.0 853.9 L678.0 855.4 L681.0 856.8 L684.0 858.2 L687.0 859.7 L690.0 861.1 L693.0 862.5 L696.0 863.9 L699.0 865.3 L702.0 866.7 L705.0 868.1 L708.0 869.5 L711.0 870.9 L714.0 872.3 L717.0 873.6 L720.0 875.0 L723.0 876.3 L726.0 877.7 L729.0 879.0 L732.0 880.3 L735.0 881.6 L738.0 882.9 L741.0 884.2 L744.0 885.5 L747.0 886.8 L750.0 888.0 L753.0 889.3 L756.0 890.5 L759.0 891.7 L762.0 892.9 L765.0 894.1 L768.0 895.3 L771.0 896.5 L774.0 897.6 L777.0 898.7 L780.0 899.9 L783.0 901.0 L786.0 902.1 L789.0 903.2 L792.0 904.2 L795.0 905.3 L798.0 906.3 L801.0 907.4 L804.0 908.4 L807.0 909.4 L810.0 910.4 L813.0 911.4 L816.0 912.4 L819.0 913.4 L822.0 914.4 L825.0 915.3 L828.0 916.3 L831.0 917.2 L834.0 918.2 L837.0 919.1 L840.0 920.0 L843.0 921.0 L846.0 921.9 L849.0 922.8 L852.0 923.7 L855.0 924.6 L858.0 925.5 L861.0 926.4 L864.0 927.3 L867.0 928.2 L870.0 929.1 L873.0 930.0 L876.0 930.8 L879.0 931.7 L882.0 932.6 L885.0 933.5 L888.0 934.3 L891.0 935.2 L894.0 936.1 L897.0 936.9 L900.0 937.8 L903.0 938.6 L906.0 939.5 L909.0 940.3 L912.0 941.2 L915.0 942.0 L918.0 942.8 L921.0 943.7 L924.0 944.5 L927.0 945.3 L930.0 946.1 L933.0 946.9 L936.0 947.8 L939.0 948.6 L942.0 949.3 L945.0 950.1 L948.0 950.9 L951.0 951.7 L954.0 952.5 L957.0 953.3 L960.0 954.0 L963.0 954.8 L966.0 955.6 L969.0 956.3 L972.0 957.1 L975.0 957.8 L978.0 958.5 L981.0 959.3 L984.0 960.0 L987.0 960.7 L990.0 961.4 L993.0 962.2 L996.0 962.9 L999.0 963.6 L1002.0 964.3 L1005.0 965.0 L1008.0 965.6 L1011.0 966.3 L1014.0 967.0 L1017.0 967.7 L1020.0 968.3 L1023.0 969.0 L1026.0 969.6 L1029.0 970.3 L1030.0 970.5" fill="none" stroke="#ff0000" stroke-width="5.0" stroke-linejoin="round"/>
<path d="M237.0 274.0 L240.0 278.0 L243.0 282.0 L246.0 286.0 L249.0 290.1 L252.0 294.1 L255.0 298.1 L258.0 302.1 L261.0 306.1 L264.0 310.1 L267.0 314.1 L270.0 318.2 L273.0 322.2 L276.0 326.2 L279.0 330.2 L282.0 334.2 L285.0 338.2 L288.0 342.2 L291.0 346.2 L294.0 350.2 L297.0 354.1 L300.0 358.1 L303.0 362.1 L306.0 366.0 L309.0 370.0 L312.0 373.9 L315.0 377.9 L318.0 381.8 L321.0 385.7 L324.0 389.6 L327.0 393.5 L330.0 397.4 L333.0 401.3 L336.0 405.1 L339.0 408.9 L342.0 412.7 L345.0 416.5 L348.0 420.3 L351.0 424.1 L354.0 427.8 L357.0 431.6 L360.0 435.3 L363.0 438.9 L366.0 442.6 L369.0 446.2 L372.0 449.8 L375.0 453.4 L378.0 457.0 L381.0 460.5 L384.0 464.0 L387.0 467.5 L390.0 471.0 L393.0 474.4 L396.0 477.8 L399.0 481.2 L402.0 484.6 L405.0 487.9 L408.0 491.2 L411.0 494.5 L414.0 497.8 L417.0 501.0 L420.0 504.2 L423.0 507.4 L426.0 510.5 L429.0 513.6 L432.0 516.7 L435.0 519.8 L438.0 522.8 L441.0 525.9 L444.0 528.8 L447.0 531.8 L450.0 534.8 L453.0 537.7 L456.0 540.6 L459.0 543.4 L462.0 546.3 L465.0 549.1 L468.0 551.9 L471.0 554.6 L474.0 557.4 L477.0 560.1 L480.0 562.8 L483.0 565.4 L486.0 568.1 L489.0 570.7 L492.0 573.3 L495.0 575.9 L498.0 578.5 L501.0 581.0 L504.0 583.5 L507.0 586.0 L510.0 588.5 L513.0 590.9 L516.0 593.3 L519.0 595.7 L522.0 598.1 L525.0 600.5 L528.0 602.8 L531.0 605.1 L534.0 607.4 L537.0 609.7 L540.0 612.0 L543.0 614.2 L546.0 616.4 L549.0 618.6 L552.0 620.8 L555.0 623.0 L558.0 625.1 L561.0 627.2 L564.0 629.3 L567.0 631.4 L570.0 633.4 L573.0 635.5 L576.0 637.5 L579.0 639.5 L582.0 641.4 L585.0 643.4 L588.0 645.3 L591.0 647.2 L594.0 649.1 L597.0 651.0 L600.0 652.9 L603.0 654.7 L606.0 656.6 L609.0 658.4 L612.0 660.2 L615.0 661.9 L618.0 663.7 L621.0 665.4 L624.0 667.2 L627.0 668.9 L630.0 670.6 L633.0 672.3 L636.0 673.9 L639.0 675.6 L642.0 677.2 L645.0 678.9 L648.0 680.5 L651.0 682.1 L654.0 683.7 L657.0 685.3 L660.0 686.8 L663.0 688.4 L666.0 689.9 L669.0 691.5 L672.0 693.0 L675.0 694.5 L678.0 696.0 L681.0 697.5 L684.0 699.0 L687.0 700.4 L690.0 701.9 L693.0 703.4 L696.0 704.8 L699.0 706.2 L702.0 707.7 L705.0 709.1 L708.0 710.5 L711.0 711.9 L714.0 713.3 L717.0 714.7 L720.0 716.1 L723.0 717.5 L726.0 718.8 L729.0 720.2 L732.0 721.6 L735.0 722.9 L738.0 724.3 L741.0 725.6 L744.0 726.9 L747.0 728.2 L750.0 729.6 L753.0 730.9 L756.0 732.2 L759.0 733.5 L762.0 734.8 L765.0 736.1 L768.0 737.4 L771.0 738.6 L774.0 739.9 L777.0 741.2 L780.0 742.4 L783.0 743.7 L786.0 744.9 L789.0 746.2 L792.0 747.4 L795.0 748.6 L798.0 749.9 L801.0 751.1 L804.0 752.3 L807.0 753.5 L810.0 754.7 L813.0 755.8 L816.0 757.0 L819.0 758.2 L822.0 759.3 L825.0 760.5 L828.0 761.6 L831.0 762.7 L834.0 763.9 L837.0 765.0 L840.0 766.1 L843.0 767.2 L846.0 768.3 L849.0 769.4 L852.0 770.4 L855.0 771.5 L858.0 772.6 L861.0 773.6 L864.0 774.7 L867.0 775.7 L870.0 776.7 L873.0 777.7 L876.0 778.7 L879.0 779.7 L882.0 780.7 L885.0 781.7 L888.0 782.7 L891.0 783.7 L894.0 784.7 L897.0 785.6 L900.0 786.6 L903.0 787.5 L906.0 788.5 L909.0 789.4 L912.0 790.3 L915.0 791.3 L918.0 792.2 L921.0 793.1 L924.0 794.0 L927.0 795.0 L930.0 795.9 L933.0 796.8 L936.0 797.7 L939.0 798.6 L942.0 799.5 L945.0 800.4 L948.0 801.3 L951.0 802.2 L954.0 803.1 L957.0 804.0 L960.0 804.9 L963.0 805.8 L966.0 806.7 L969.0 807.6 L972.0 808.5 L975.0 809.4 L978.0 810.3 L981.0 811.2 L984.0 812.1 L987.0 813.0 L990.0 813.9 L993.0 814.8 L996.0 815.8 L999.0 816.7 L1002.0 817.6 L1005.0 818.5 L1008.0 819.4 L1011.0 820.4 L1014.0 821.3 L1017.0 822.2 L1020.0 823.2 L1023.0 824.1 L1026.0 825.0 L1029.0 826.0 L1030.0 826.3" fill="none" stroke="#ff0000" stroke-width="5.0" stroke-linejoin="round"/>
<path d="M237.0 155.0 L240.0 157.9 L243.0 160.9 L246.0 163.8 L249.0 166.7 L252.0 169.7 L255.0 172.6 L258.0 175.5 L261.0 178.4 L264.0 181.3 L267.0 184.2 L270.0 187.1 L273.0 190.0 L276.0 192.9 L279.0 195.8 L282.0 198.7 L285.0 201.6 L288.0 204.5 L291.0 207.4 L294.0 210.2 L297.0 213.1 L300.0 216.0 L303.0 218.8 L306.0 221.7 L309.0 224.5 L312.0 227.4 L315.0 230.2 L318.0 233.1 L321.0 235.9 L324.0 238.7 L327.0 241.6 L330.0 244.4 L333.0 247.2 L336.0 250.0 L339.0 252.8 L342.0 255.6 L345.0 258.4 L348.0 261.2 L351.0 263.9 L354.0 266.7 L357.0 269.5 L360.0 272.2 L363.0 275.0 L366.0 277.7 L369.0 280.4 L372.0 283.2 L375.0 285.9 L378.0 288.6 L381.0 291.3 L384.0 294.0 L387.0 296.7 L390.0 299.3 L393.0 302.0 L396.0 304.7 L399.0 307.3 L402.0 310.0 L405.0 312.6 L408.0 315.2 L411.0 317.8 L414.0 320.4 L417.0 323.0 L420.0 325.6 L423.0 328.2 L426.0 330.8 L429.0 333.3 L432.0 335.9 L435.0 338.4 L438.0 341.0 L441.0 343.5 L444.0 346.0 L447.0 348.5 L450.0 351.0 L453.0 353.5 L456.0 356.0 L459.0 358.5 L462.0 360.9 L465.0 363.4 L468.0 365.8 L471.0 368.3 L474.0 370.7 L477.0 373.1 L480.0 375.5 L483.0 377.9 L486.0 380.2 L489.0 382.6 L492.0 384.9 L495.0 387.3 L498.0 389.6 L501.0 391.9 L504.0 394.2 L507.0 396.5 L510.0 398.7 L513.0 401.0 L516.0 403.2 L519.0 405.4 L522.0 407.6 L525.0 409.8 L528.0 412.0 L531.0 414.1 L534.0 416.3 L537.0 418.4 L540.0 420.5 L543.0 422.6 L546.0 424.7 L549.0 426.8 L552.0 428.8 L555.0 430.9 L558.0 432.9 L561.0 434.9 L564.0 436.9 L567.0 438.9 L570.0 440.9 L573.0 442.9 L576.0 444.8 L579.0 446.8 L582.0 448.7 L585.0 450.7 L588.0 452.6 L591.0 454.5 L594.0 456.4 L597.0 458.3 L600.0 460.2 L603.0 462.1 L606.0 463.9 L609.0 465.8 L612.0 467.7 L615.0 469.5 L618.0 471.4 L621.0 473.2 L624.0 475.1 L627.0 476.9 L630.0 478.8 L633.0 480.6 L636.0 482.5 L639.0 484.3 L642.0 486.2 L645.0 488.0 L648.0 489.8 L651.0 491.7 L654.0 493.5 L657.0 495.3 L660.0 497.2 L663.0 499.0 L666.0 500.9 L669.0 502.7 L672.0 504.5 L675.0 506.4 L678.0 508.2 L681.0 510.1 L684.0 511.9 L687.0 513.8 L690.0 515.6 L693.0 517.5 L696.0 519.3 L699.0 521.2 L702.0 523.0 L705.0 524.9 L708.0 526.8 L711.0 528.6 L714.0 530.5 L717.0 532.4 L720.0 534.3 L723.0 536.2 L726.0 538.0 L729.0 539.9 L732.0 541.8 L735.0 543.7 L738.0 545.6 L741.0 547.5 L744.0 549.4 L747.0 551.3 L750.0 553.3 L753.0 555.2 L756.0 557.1 L759.0 559.0 L762.0 561.0 L765.0 562.9 L768.0 564.9 L771.0 566.8 L774.0 568.8 L777.0 570.7 L780.0 572.7 L783.0 574.7 L786.0 576.6 L789.0 578.6 L792.0 580.6 L795.0 582.6 L798.0 584.6 L801.0 586.5 L804.0 588.5 L807.0 590.5 L810.0 592.5 L813.0 594.6 L816.0 596.6 L819.0 598.6 L822.0 600.6 L825.0 602.6 L828.0 604.7 L831.0 606.7 L834.0 608.7 L837.0 610.8 L840.0 612.8 L843.0 614.8 L846.0 616.9 L849.0 618.9 L852.0 621.0 L855.0 623.1 L858.0 625.1 L861.0 627.2 L864.0 629.3 L867.0 631.3 L870.0 633.4 L873.0 635.5 L876.0 637.6 L879.0 639.6 L882.0 641.7 L885.0 643.8 L888.0 645.9 L891.0 648.0 L894.0 650.1 L897.0 652.2 L900.0 654.3 L903.0 656.4 L906.0 658.5 L909.0 660.6 L912.0 662.7 L915.0 664.8 L918.0 666.9 L921.0 669.0 L924.0 671.1 L927.0 673.3 L930.0 675.4 L933.0 677.5 L936.0 679.6 L939.0 681.7 L942.0 683.8 L945.0 685.9 L948.0 688.0 L951.0 690.1 L954.0 692.2 L957.0 694.3 L960.0 696.4 L963.0 698.5 L966.0 700.6 L969.0 702.7 L972.0 704.8 L975.0 706.9 L978.0 708.9 L981.0 711.0 L984.0 713.1 L987.0 715.2 L990.0 717.2 L993.0 719.3 L996.0 721.4 L999.0 723.4 L1002.0 725.5 L1005.0 727.5 L1008.0 729.6 L1011.0 731.6 L1014.0 733.7 L1017.0 735.7 L1020.0 737.7 L1023.0 739.8 L1026.0 741.8 L1029.0 743.8 L1030.0 744.5" fill="none" stroke="#ff0000" stroke-width="5.0" stroke-linejoin="round"/>
<path d="M237.0 574.7 L240.0 579.6 L243.0 584.5 L246.0 589.4 L249.0 594.3 L252.0 599.2 L255.0 604.0 L258.0 608.9 L261.0 613.7 L264.0 618.5 L267.0 623.3 L270.0 628.0 L273.0 632.7 L276.0 637.5 L279.0 642.2 L282.0 646.8 L285.0 651.5 L288.0 656.1 L291.0 660.7 L294.0 665.3 L297.0 669.9 L300.0 674.5 L303.0 679.0 L306.0 683.5 L309.0 688.0 L312.0 692.5 L315.0 697.0 L318.0 701.4 L321.0 705.8 L324.0 710.2 L327.0 714.6 L330.0 718.9 L333.0 723.2 L336.0 727.5 L339.0 731.8 L342.0 736.0 L345.0 740.3 L348.0 744.5 L351.0 748.6 L354.0 752.8 L357.0 756.9 L360.0 761.0 L363.0 765.0 L366.0 769.1 L369.0 773.1 L372.0 777.1 L375.0 781.0 L378.0 784.9 L381.0 788.8 L384.0 792.7 L387.0 796.5 L390.0 800.3 L393.0 804.1 L396.0 807.8 L399.0 811.5 L402.0 815.2 L405.0 818.9 L408.0 822.5 L411.0 826.1 L414.0 829.6 L417.0 833.1 L420.0 836.6 L423.0 840.1 L426.0 843.5 L429.0 846.9 L432.0 850.2 L435.0 853.5 L438.0 856.8 L441.0 860.1 L444.0 863.3 L447.0 866.5 L450.0 869.6 L453.0 872.8 L456.0 875.9 L459.0 878.9 L462.0 881.9 L465.0 884.9 L468.0 887.9 L471.0 890.8 L474.0 893.7 L477.0 896.6 L480.0 899.4 L483.0 902.2 L486.0 905.0 L489.0 907.7 L492.0 910.4 L495.0 913.1 L498.0 915.7 L501.0 918.3 L504.0 920.9 L507.0 923.4 L510.0 925.9 L513.0 928.4 L516.0 930.9 L519.0 933.3 L522.0 935.7 L525.0 938.1 L528.0 940.4 L531.0 942.7 L534.0 945.0 L537.0 947.2 L540.0 949.5 L543.0 951.7 L546.0 953.8 L549.0 956.0 L552.0 958.1 L555.0 960.2 L558.0 962.3 L561.0 964.3 L564.0 966.4 L567.0 968.4 L570.0 970.4 L573.0 972.3 L576.0 974.3 L579.0 976.2 L582.0 978.1 L585.0 980.0 L588.0 981.8 L591.0 983.7 L594.0 985.5 L597.0 987.3 L600.0 989.1 L603.0 990.9 L606.0 992.6 L609.0 994.4 L612.0 996.1 L615.0 997.8 L618.0 999.5 L621.0 1001.2 L624.0 1002.8 L627.0 1004.5 L630.0 1006.1 L633.0 1007.7 L636.0 1009.3 L639.0 1010.9 L642.0 1012.5 L645.0 1014.1 L648.0 1015.6 L651.0 1017.1 L654.0 1018.7 L657.0 1020.2 L660.0 1021.7 L663.0 1023.1 L666.0 1024.6 L669.0 1026.1 L672.0 1027.5 L675.0 1029.0 L678.0 1030.4 L681.0 1031.8 L684.0 1033.2 L687.0 1034.6 L690.0 1036.0 L693.0 1037.3 L696.0 1038.7 L699.0 1040.0 L702.0 1041.4 L705.0 1042.7 L708.0 1044.0 L711.0 1045.3 L714.0 1046.6 L717.0 1047.9 L720.0 1049.2 L723.0 1050.4 L726.0 1051.7 L729.0 1052.9 L732.0 1054.1 L735.0 1055.3 L738.0 1056.6 L741.0 1057.7 L744.0 1058.9 L747.0 1060.1 L750.0 1061.3 L753.0 1062.4 L756.0 1063.6 L759.0 1064.7 L762.0 1065.9 L765.0 1067.0 L768.0 1068.1 L771.0 1069.2 L774.0 1070.3 L777.0 1071.3 L780.0 1072.4 L783.0 1073.5 L786.0 1074.5 L789.0 1075.6 L792.0 1076.6 L795.0 1077.6 L798.0 1078.7 L801.0 1079.7 L804.0 1080.7 L807.0 1081.7 L810.0 1082.7 L813.0 1083.6 L816.0 1084.6 L819.0 1085.6 L822.0 1086.5 L825.0 1087.5 L828.0 1088.4 L831.0 1089.4 L834.0 1090.3 L837.0 1091.2 L840.0 1092.1 L843.0 1093.0 L846.0 1093.9 L849.0 1094.8 L852.0 1095.7 L855.0 1096.6 L858.0 1097.5 L861.0 1098.4 L864.0 1099.2 L867.0 1100.1 L870.0 1100.9 L873.0 1101.8 L876.0 1102.6 L879.0 1103.5 L882.0 1104.3 L885.0 1105.1 L888.0 1106.0 L891.0 1106.8 L894.0 1107.6 L897.0 1108.4 L900.0 1109.2 L903.0 1110.0 L906.0 1110.8 L909.0 1111.6 L912.0 1112.4 L915.0 1113.1 L918.0 1113.9 L921.0 1114.7 L924.0 1115.4 L927.0 1116.2 L930.0 1116.9 L933.0 1117.7 L936.0 1118.4 L939.0 1119.2 L942.0 1119.9 L945.0 1120.6 L948.0 1121.4 L951.0 1122.1 L954.0 1122.8 L957.0 1123.5 L960.0 1124.2 L963.0 1124.9 L966.0 1125.6 L969.0 1126.3 L972.0 1127.0 L975.0 1127.7 L978.0 1128.4 L981.0 1129.1 L984.0 1129.7 L987.0 1130.4 L990.0 1131.1 L993.0 1131.7 L996.0 1132.4 L999.0 1133.0 L1002.0 1133.7 L1005.0 1134.3 L1008.0 1135.0 L1011.0 1135.6 L1014.0 1136.2 L1017.0 1136.8 L1020.0 1137.5 L1023.0 1138.1 L1026.0 1138.7 L1029.0 1139.3 L1030.0 1139.5" fill="none" stroke="#0000ff" stroke-width="5.0" stroke-linejoin="round"/>
<path d="M237.0 456.2 L240.0 460.8 L243.0 465.5 L246.0 470.1 L249.0 474.7 L252.0 479.2 L255.0 483.8 L258.0 488.4 L261.0 493.0 L264.0 497.5 L267.0 502.0 L270.0 506.6 L273.0 511.1 L276.0 515.6 L279.0 520.1 L282.0 524.5 L285.0 529.0 L288.0 533.5 L291.0 537.9 L294.0 542.3 L297.0 546.7 L300.0 551.1 L303.0 555.5 L306.0 559.9 L309.0 564.2 L312.0 568.6 L315.0 572.9 L318.0 577.2 L321.0 581.5 L324.0 585.7 L327.0 590.0 L330.0 594.2 L333.0 598.4 L336.0 602.6 L339.0 606.8 L342.0 610.9 L345.0 615.0 L348.0 619.1 L351.0 623.2 L354.0 627.2 L357.0 631.3 L360.0 635.3 L363.0 639.3 L366.0 643.2 L369.0 647.1 L372.0 651.0 L375.0 654.9 L378.0 658.8 L381.0 662.6 L384.0 666.4 L387.0 670.1 L390.0 673.9 L393.0 677.6 L396.0 681.2 L399.0 684.9 L402.0 688.5 L405.0 692.1 L408.0 695.6 L411.0 699.2 L414.0 702.7 L417.0 706.1 L420.0 709.5 L423.0 712.9 L426.0 716.3 L429.0 719.6 L432.0 722.9 L435.0 726.2 L438.0 729.4 L441.0 732.6 L444.0 735.8 L447.0 738.9 L450.0 742.1 L453.0 745.1 L456.0 748.2 L459.0 751.2 L462.0 754.1 L465.0 757.1 L468.0 760.0 L471.0 762.9 L474.0 765.7 L477.0 768.6 L480.0 771.3 L483.0 774.1 L486.0 776.8 L489.0 779.5 L492.0 782.2 L495.0 784.8 L498.0 787.4 L501.0 790.0 L504.0 792.6 L507.0 795.1 L510.0 797.6 L513.0 800.0 L516.0 802.5 L519.0 804.9 L522.0 807.3 L525.0 809.7 L528.0 812.0 L531.0 814.3 L534.0 816.6 L537.0 818.8 L540.0 821.1 L543.0 823.3 L546.0 825.5 L549.0 827.6 L552.0 829.8 L555.0 831.9 L558.0 834.0 L561.0 836.1 L564.0 838.1 L567.0 840.2 L570.0 842.2 L573.0 844.2 L576.0 846.1 L579.0 848.1 L582.0 850.0 L585.0 852.0 L588.0 853.8 L591.0 855.7 L594.0 857.6 L597.0 859.4 L600.0 861.3 L603.0 863.1 L606.0 864.9 L609.0 866.7 L612.0 868.4 L615.0 870.2 L618.0 871.9 L621.0 873.6 L624.0 875.3 L627.0 877.0 L630.0 878.7 L633.0 880.4 L636.0 882.1 L639.0 883.7 L642.0 885.3 L645.0 887.0 L648.0 888.6 L651.0 890.2 L654.0 891.8 L657.0 893.3 L660.0 894.9 L663.0 896.5 L666.0 898.0 L669.0 899.6 L672.0 901.1 L675.0 902.6 L678.0 904.1 L681.0 905.6 L684.0 907.1 L687.0 908.6 L690.0 910.1 L693.0 911.5 L696.0 913.0 L699.0 914.4 L702.0 915.9 L705.0 917.3 L708.0 918.7 L711.0 920.1 L714.0 921.5 L717.0 922.9 L720.0 924.2 L723.0 925.6 L726.0 927.0 L729.0 928.3 L732.0 929.6 L735.0 931.0 L738.0 932.3 L741.0 933.6 L744.0 934.9 L747.0 936.2 L750.0 937.4 L753.0 938.7 L756.0 939.9 L759.0 941.2 L762.0 942.4 L765.0 943.6 L768.0 944.8 L771.0 946.0 L774.0 947.2 L777.0 948.4 L780.0 949.6 L783.0 950.7 L786.0 951.9 L789.0 953.0 L792.0 954.1 L795.0 955.2 L798.0 956.3 L801.0 957.4 L804.0 958.5 L807.0 959.6 L810.0 960.7 L813.0 961.7 L816.0 962.8 L819.0 963.8 L822.0 964.8 L825.0 965.9 L828.0 966.9 L831.0 967.9 L834.0 968.9 L837.0 969.9 L840.0 970.9 L843.0 971.9 L846.0 972.8 L849.0 973.8 L852.0 974.7 L855.0 975.7 L858.0 976.6 L861.0 977.6 L864.0 978.5 L867.0 979.4 L870.0 980.3 L873.0 981.2 L876.0 982.1 L879.0 983.0 L882.0 983.9 L885.0 984.8 L888.0 985.7 L891.0 986.6 L894.0 987.4 L897.0 988.3 L900.0 989.2 L903.0 990.0 L906.0 990.9 L909.0 991.7 L912.0 992.5 L915.0 993.4 L918.0 994.2 L921.0 995.0 L924.0 995.8 L927.0 996.7 L930.0 997.5 L933.0 998.3 L936.0 999.1 L939.0 999.9 L942.0 1000.7 L945.0 1001.5 L948.0 1002.2 L951.0 1003.0 L954.0 1003.8 L957.0 1004.6 L960.0 1005.3 L963.0 1006.1 L966.0 1006.9 L969.0 1007.6 L972.0 1008.4 L975.0 1009.1 L978.0 1009.9 L981.0 1010.6 L984.0 1011.3 L987.0 1012.1 L990.0 1012.8 L993.0 1013.5 L996.0 1014.2 L999.0 1015.0 L1002.0 1015.7 L1005.0 1016.4 L1008.0 1017.1 L1011.0 1017.8 L1014.0 1018.5 L1017.0 1019.2 L1020.0 1019.9 L1023.0 1020.5 L1026.0 1021.2 L1029.0 1021.9 L1030.0 1022.1" fill="none" stroke="#0000ff" stroke-width="5.0" stroke-linejoin="round"/>
<path d="M237.0 320.7 L240.0 324.9 L243.0 329.1 L246.0 333.3 L249.0 337.5 L252.0 341.7 L255.0 345.8 L258.0 350.0 L261.0 354.1 L264.0 358.3 L267.0 362.4 L270.0 366.6 L273.0 370.7 L276.0 374.8 L279.0 378.9 L282.0 382.9 L285.0 387.0 L288.0 391.1 L291.0 395.1 L294.0 399.2 L297.0 403.2 L300.0 407.2 L303.0 411.2 L306.0 415.2 L309.0 419.2 L312.0 423.1 L315.0 427.1 L318.0 431.0 L321.0 434.9 L324.0 438.8 L327.0 442.7 L330.0 446.5 L333.0 450.4 L336.0 454.2 L339.0 458.0 L342.0 461.8 L345.0 465.5 L348.0 469.3 L351.0 473.0 L354.0 476.7 L357.0 480.4 L360.0 484.1 L363.0 487.7 L366.0 491.3 L369.0 494.9 L372.0 498.5 L375.0 502.0 L378.0 505.6 L381.0 509.1 L384.0 512.6 L387.0 516.0 L390.0 519.4 L393.0 522.9 L396.0 526.2 L399.0 529.6 L402.0 532.9 L405.0 536.2 L408.0 539.5 L411.0 542.8 L414.0 546.0 L417.0 549.2 L420.0 552.4 L423.0 555.6 L426.0 558.7 L429.0 561.8 L432.0 564.9 L435.0 567.9 L438.0 571.0 L441.0 574.0 L444.0 576.9 L447.0 579.9 L450.0 582.8 L453.0 585.7 L456.0 588.6 L459.0 591.4 L462.0 594.3 L465.0 597.1 L468.0 599.8 L471.0 602.6 L474.0 605.3 L477.0 608.0 L480.0 610.7 L483.0 613.3 L486.0 615.9 L489.0 618.5 L492.0 621.1 L495.0 623.7 L498.0 626.2 L501.0 628.7 L504.0 631.2 L507.0 633.6 L510.0 636.0 L513.0 638.5 L516.0 640.8 L519.0 643.2 L522.0 645.6 L525.0 647.9 L528.0 650.2 L531.0 652.5 L534.0 654.7 L537.0 657.0 L540.0 659.2 L543.0 661.4 L546.0 663.6 L549.0 665.8 L552.0 667.9 L555.0 670.0 L558.0 672.2 L561.0 674.3 L564.0 676.3 L567.0 678.4 L570.0 680.5 L573.0 682.5 L576.0 684.5 L579.0 686.6 L582.0 688.5 L585.0 690.5 L588.0 692.5 L591.0 694.5 L594.0 696.4 L597.0 698.3 L600.0 700.3 L603.0 702.2 L606.0 704.1 L609.0 706.0 L612.0 707.8 L615.0 709.7 L618.0 711.5 L621.0 713.4 L624.0 715.2 L627.0 717.0 L630.0 718.8 L633.0 720.6 L636.0 722.4 L639.0 724.1 L642.0 725.9 L645.0 727.6 L648.0 729.3 L651.0 731.0 L654.0 732.7 L657.0 734.4 L660.0 736.0 L663.0 737.7 L666.0 739.3 L669.0 741.0 L672.0 742.6 L675.0 744.1 L678.0 745.7 L681.0 747.3 L684.0 748.8 L687.0 750.4 L690.0 751.9 L693.0 753.4 L696.0 754.9 L699.0 756.3 L702.0 757.8 L705.0 759.3 L708.0 760.7 L711.0 762.1 L714.0 763.5 L717.0 764.9 L720.0 766.3 L723.0 767.7 L726.0 769.1 L729.0 770.4 L732.0 771.8 L735.0 773.1 L738.0 774.4 L741.0 775.7 L744.0 777.0 L747.0 778.3 L750.0 779.6 L753.0 780.9 L756.0 782.2 L759.0 783.5 L762.0 784.7 L765.0 786.0 L768.0 787.2 L771.0 788.5 L774.0 789.7 L777.0 791.0 L780.0 792.2 L783.0 793.4 L786.0 794.6 L789.0 795.8 L792.0 797.0 L795.0 798.2 L798.0 799.4 L801.0 800.6 L804.0 801.8 L807.0 803.0 L810.0 804.2 L813.0 805.3 L816.0 806.5 L819.0 807.7 L822.0 808.8 L825.0 810.0 L828.0 811.1 L831.0 812.3 L834.0 813.4 L837.0 814.6 L840.0 815.7 L843.0 816.8 L846.0 817.9 L849.0 819.1 L852.0 820.2 L855.0 821.3 L858.0 822.4 L861.0 823.5 L864.0 824.6 L867.0 825.7 L870.0 826.8 L873.0 827.9 L876.0 828.9 L879.0 830.0 L882.0 831.1 L885.0 832.1 L888.0 833.2 L891.0 834.3 L894.0 835.3 L897.0 836.4 L900.0 837.4 L903.0 838.4 L906.0 839.5 L909.0 840.5 L912.0 841.5 L915.0 842.6 L918.0 843.6 L921.0 844.6 L924.0 845.6 L927.0 846.6 L930.0 847.6 L933.0 848.6 L936.0 849.6 L939.0 850.6 L942.0 851.5 L945.0 852.5 L948.0 853.5 L951.0 854.5 L954.0 855.4 L957.0 856.4 L960.0 857.3 L963.0 858.3 L966.0 859.2 L969.0 860.1 L972.0 861.1 L975.0 862.0 L978.0 862.9 L981.0 863.8 L984.0 864.8 L987.0 865.7 L990.0 866.6 L993.0 867.5 L996.0 868.4 L999.0 869.3 L1002.0 870.1 L1005.0 871.0 L1008.0 871.9 L1011.0 872.8 L1014.0 873.6 L1017.0 874.5 L1020.0 875.4 L1023.0 876.2 L1026.0 877.1 L1029.0 877.9 L1030.0 878.2" fill="none" stroke="#0000ff" stroke-width="5.0" stroke-linejoin="round"/>
<path d="M237.0 201.2 L240.0 204.2 L243.0 207.2 L246.0 210.2 L249.0 213.1 L252.0 216.1 L255.0 219.1 L258.0 222.0 L261.0 225.0 L264.0 227.9 L267.0 230.9 L270.0 233.8 L273.0 236.7 L276.0 239.6 L279.0 242.6 L282.0 245.5 L285.0 248.4 L288.0 251.3 L291.0 254.2 L294.0 257.1 L297.0 259.9 L300.0 262.8 L303.0 265.7 L306.0 268.6 L309.0 271.4 L312.0 274.3 L315.0 277.1 L318.0 280.0 L321.0 282.8 L324.0 285.6 L327.0 288.5 L330.0 291.3 L333.0 294.1 L336.0 296.9 L339.0 299.7 L342.0 302.5 L345.0 305.3 L348.0 308.1 L351.0 310.9 L354.0 313.7 L357.0 316.5 L360.0 319.3 L363.0 322.0 L366.0 324.8 L369.0 327.6 L372.0 330.3 L375.0 333.1 L378.0 335.8 L381.0 338.5 L384.0 341.3 L387.0 344.0 L390.0 346.7 L393.0 349.4 L396.0 352.1 L399.0 354.8 L402.0 357.5 L405.0 360.2 L408.0 362.8 L411.0 365.5 L414.0 368.2 L417.0 370.8 L420.0 373.4 L423.0 376.1 L426.0 378.7 L429.0 381.3 L432.0 383.9 L435.0 386.5 L438.0 389.1 L441.0 391.6 L444.0 394.2 L447.0 396.7 L450.0 399.3 L453.0 401.8 L456.0 404.3 L459.0 406.8 L462.0 409.3 L465.0 411.7 L468.0 414.2 L471.0 416.6 L474.0 419.1 L477.0 421.5 L480.0 423.9 L483.0 426.3 L486.0 428.7 L489.0 431.0 L492.0 433.4 L495.0 435.7 L498.0 438.0 L501.0 440.3 L504.0 442.6 L507.0 444.9 L510.0 447.1 L513.0 449.4 L516.0 451.6 L519.0 453.8 L522.0 456.0 L525.0 458.2 L528.0 460.4 L531.0 462.5 L534.0 464.7 L537.0 466.8 L540.0 468.9 L543.0 471.0 L546.0 473.1 L549.0 475.2 L552.0 477.3 L555.0 479.3 L558.0 481.4 L561.0 483.4 L564.0 485.4 L567.0 487.4 L570.0 489.4 L573.0 491.4 L576.0 493.4 L579.0 495.4 L582.0 497.4 L585.0 499.3 L588.0 501.3 L591.0 503.2 L594.0 505.1 L597.0 507.1 L600.0 509.0 L603.0 510.9 L606.0 512.8 L609.0 514.7 L612.0 516.7 L615.0 518.6 L618.0 520.4 L621.0 522.3 L624.0 524.2 L627.0 526.1 L630.0 528.0 L633.0 529.9 L636.0 531.8 L639.0 533.6 L642.0 535.5 L645.0 537.4 L648.0 539.3 L651.0 541.1 L654.0 543.0 L657.0 544.9 L660.0 546.7 L663.0 548.6 L666.0 550.5 L669.0 552.4 L672.0 554.2 L675.0 556.1 L678.0 558.0 L681.0 559.8 L684.0 561.7 L687.0 563.6 L690.0 565.4 L693.0 567.3 L696.0 569.2 L699.0 571.0 L702.0 572.9 L705.0 574.8 L708.0 576.7 L711.0 578.5 L714.0 580.4 L717.0 582.3 L720.0 584.2 L723.0 586.1 L726.0 588.0 L729.0 589.9 L732.0 591.8 L735.0 593.7 L738.0 595.6 L741.0 597.5 L744.0 599.4 L747.0 601.4 L750.0 603.3 L753.0 605.2 L756.0 607.2 L759.0 609.1 L762.0 611.1 L765.0 613.1 L768.0 615.0 L771.0 617.0 L774.0 619.0 L777.0 621.0 L780.0 623.0 L783.0 625.0 L786.0 627.0 L789.0 629.0 L792.0 631.0 L795.0 633.0 L798.0 635.1 L801.0 637.1 L804.0 639.1 L807.0 641.2 L810.0 643.2 L813.0 645.3 L816.0 647.3 L819.0 649.4 L822.0 651.5 L825.0 653.6 L828.0 655.6 L831.0 657.7 L834.0 659.8 L837.0 661.9 L840.0 664.0 L843.0 666.1 L846.0 668.2 L849.0 670.3 L852.0 672.4 L855.0 674.5 L858.0 676.6 L861.0 678.7 L864.0 680.8 L867.0 682.9 L870.0 685.0 L873.0 687.1 L876.0 689.3 L879.0 691.4 L882.0 693.5 L885.0 695.6 L888.0 697.7 L891.0 699.8 L894.0 701.9 L897.0 704.0 L900.0 706.1 L903.0 708.2 L906.0 710.3 L909.0 712.4 L912.0 714.5 L915.0 716.6 L918.0 718.7 L921.0 720.8 L924.0 722.9 L927.0 725.0 L930.0 727.1 L933.0 729.2 L936.0 731.3 L939.0 733.4 L942.0 735.5 L945.0 737.6 L948.0 739.7 L951.0 741.8 L954.0 743.9 L957.0 746.0 L960.0 748.1 L963.0 750.2 L966.0 752.2 L969.0 754.3 L972.0 756.4 L975.0 758.5 L978.0 760.6 L981.0 762.7 L984.0 764.8 L987.0 766.9 L990.0 769.0 L993.0 771.1 L996.0 773.2 L999.0 775.3 L1002.0 777.3 L1005.0 779.4 L1008.0 781.5 L1011.0 783.6 L1014.0 785.7 L1017.0 787.8 L1020.0 789.9 L1023.0 792.0 L1026.0 794.1 L1029.0 796.2 L1030.0 796.9" fill="none" stroke="#0000ff" stroke-width="5.0" stroke-linejoin="round"/>
<rect x="1204" y="36" width="5" height="1189" fill="#000"/>
<rect x="1995" y="36" width="4" height="1189" fill="#000"/>
<rect x="1204" y="36" width="795" height="5" fill="#000"/>
<rect x="1204" y="1221" width="795" height="4" fill="#000"/>
<text transform="translate(1191.35,1290.80) scale(1.0000,1.0000)" font-size="58.94" font-weight="normal" fill="#000">1</text>
<rect x="1284" y="1211" width="5" height="11" fill="#000"/>
<rect x="1363" y="1200" width="5" height="22" fill="#000"/>
<text transform="translate(1350.61,1290.80) scale(1.0000,1.0000)" font-size="58.72" font-weight="normal" fill="#000">2</text>
<rect x="1442" y="1211" width="5" height="11" fill="#000"/>
<rect x="1521" y="1200" width="5" height="22" fill="#000"/>
<text transform="translate(1508.42,1290.22) scale(1.0000,1.0000)" font-size="57.84" font-weight="normal" fill="#000">3</text>
<rect x="1600" y="1211" width="5" height="11" fill="#000"/>
<rect x="1679" y="1200" width="5" height="22" fill="#000"/>
<text transform="translate(1666.26,1290.80) scale(1.0000,1.0000)" font-size="59.16" font-weight="normal" fill="#000">4</text>
<rect x="1758" y="1211" width="5" height="11" fill="#000"/>
<rect x="1837" y="1200" width="5" height="22" fill="#000"/>
<text transform="translate(1824.16,1290.22) scale(1.0000,1.0000)" font-size="58.50" font-weight="normal" fill="#000">5</text>
<rect x="1916" y="1211" width="5" height="11" fill="#000"/>
<text transform="translate(1982.58,1290.22) scale(1.0000,1.0000)" font-size="57.84" font-weight="normal" fill="#000">6</text>
<rect x="1208" y="1113" width="22" height="5" fill="#000"/>
<text transform="translate(1154.03,1132.12) scale(0.9767,1.0000)" font-size="57.93" font-weight="normal" fill="#000">0</text>
<rect x="1208" y="897" width="22" height="5" fill="#000"/>
<text transform="translate(1125.74,916.76) scale(0.9767,1.0000)" font-size="57.93" font-weight="normal" fill="#000">50</text>
<rect x="1208" y="682" width="22" height="5" fill="#000"/>
<text transform="translate(1097.45,701.39) scale(0.9767,1.0000)" font-size="57.93" font-weight="normal" fill="#000">100</text>
<rect x="1208" y="467" width="22" height="5" fill="#000"/>
<text transform="translate(1097.45,486.03) scale(0.9767,1.0000)" font-size="57.93" font-weight="normal" fill="#000">150</text>
<rect x="1208" y="251" width="22" height="5" fill="#000"/>
<text transform="translate(1097.45,270.66) scale(0.9767,1.0000)" font-size="57.93" font-weight="normal" fill="#000">200</text>
<text transform="translate(1097.45,55.30) scale(0.9767,1.0000)" font-size="57.93" font-weight="normal" fill="#000">250</text>
<rect x="1208" y="1005" width="11" height="5" fill="#000"/>
<rect x="1208" y="790" width="11" height="5" fill="#000"/>
<rect x="1208" y="574" width="11" height="5" fill="#000"/>
<rect x="1208" y="359" width="11" height="5" fill="#000"/>
<rect x="1208" y="144" width="11" height="5" fill="#000"/>
<path d="M1206.0 574.8 L1209.0 579.5 L1212.0 584.3 L1215.0 589.1 L1218.0 593.9 L1221.0 598.6 L1224.0 603.4 L1227.0 608.2 L1230.0 613.0 L1233.0 617.8 L1236.0 622.6 L1239.0 627.4 L1242.0 632.3 L1245.0 637.1 L1248.0 641.9 L1251.0 646.7 L1254.0 651.5 L1257.0 656.4 L1260.0 661.2 L1263.0 666.0 L1266.0 670.8 L1269.0 675.6 L1272.0 680.4 L1275.0 685.2 L1278.0 689.9 L1281.0 694.7 L1284.0 699.4 L1287.0 704.1 L1290.0 708.8 L1293.0 713.5 L1296.0 718.1 L1299.0 722.7 L1302.0 727.3 L1305.0 731.8 L1308.0 736.4 L1311.0 740.8 L1314.0 745.3 L1317.0 749.7 L1320.0 754.0 L1323.0 758.3 L1326.0 762.6 L1329.0 766.8 L1332.0 770.9 L1335.0 775.0 L1338.0 779.1 L1341.0 783.1 L1344.0 787.0 L1347.0 790.9 L1350.0 794.7 L1353.0 798.5 L1356.0 802.2 L1359.0 805.9 L1362.0 809.5 L1365.0 813.1 L1368.0 816.6 L1371.0 820.0 L1374.0 823.4 L1377.0 826.7 L1380.0 830.0 L1383.0 833.2 L1386.0 836.4 L1389.0 839.5 L1392.0 842.6 L1395.0 845.6 L1398.0 848.5 L1401.0 851.4 L1404.0 854.3 L1407.0 857.1 L1410.0 859.8 L1413.0 862.5 L1416.0 865.1 L1419.0 867.7 L1422.0 870.3 L1425.0 872.8 L1428.0 875.3 L1431.0 877.7 L1434.0 880.0 L1437.0 882.4 L1440.0 884.7 L1443.0 886.9 L1446.0 889.1 L1449.0 891.3 L1452.0 893.4 L1455.0 895.5 L1458.0 897.6 L1461.0 899.6 L1464.0 901.6 L1467.0 903.5 L1470.0 905.4 L1473.0 907.3 L1476.0 909.2 L1479.0 911.0 L1482.0 912.8 L1485.0 914.5 L1488.0 916.3 L1491.0 918.0 L1494.0 919.7 L1497.0 921.3 L1500.0 922.9 L1503.0 924.5 L1506.0 926.1 L1509.0 927.6 L1512.0 929.1 L1515.0 930.6 L1518.0 932.1 L1521.0 933.6 L1524.0 935.0 L1527.0 936.4 L1530.0 937.8 L1533.0 939.1 L1536.0 940.5 L1539.0 941.8 L1542.0 943.1 L1545.0 944.3 L1548.0 945.6 L1551.0 946.8 L1554.0 948.1 L1557.0 949.3 L1560.0 950.4 L1563.0 951.6 L1566.0 952.8 L1569.0 953.9 L1572.0 955.0 L1575.0 956.1 L1578.0 957.2 L1581.0 958.3 L1584.0 959.3 L1587.0 960.4 L1590.0 961.4 L1593.0 962.4 L1596.0 963.4 L1599.0 964.4 L1602.0 965.4 L1605.0 966.3 L1608.0 967.3 L1611.0 968.2 L1614.0 969.2 L1617.0 970.1 L1620.0 971.0 L1623.0 971.9 L1626.0 972.8 L1629.0 973.7 L1632.0 974.6 L1635.0 975.4 L1638.0 976.3 L1641.0 977.1 L1644.0 978.0 L1647.0 978.8 L1650.0 979.6 L1653.0 980.5 L1656.0 981.3 L1659.0 982.1 L1662.0 982.9 L1665.0 983.7 L1668.0 984.4 L1671.0 985.2 L1674.0 986.0 L1677.0 986.8 L1680.0 987.5 L1683.0 988.3 L1686.0 989.0 L1689.0 989.7 L1692.0 990.4 L1695.0 991.2 L1698.0 991.9 L1701.0 992.6 L1704.0 993.3 L1707.0 994.0 L1710.0 994.6 L1713.0 995.3 L1716.0 996.0 L1719.0 996.6 L1722.0 997.3 L1725.0 997.9 L1728.0 998.5 L1731.0 999.2 L1734.0 999.8 L1737.0 1000.4 L1740.0 1001.0 L1743.0 1001.6 L1746.0 1002.2 L1749.0 1002.7 L1752.0 1003.3 L1755.0 1003.9 L1758.0 1004.4 L1761.0 1005.0 L1764.0 1005.5 L1767.0 1006.0 L1770.0 1006.6 L1773.0 1007.1 L1776.0 1007.6 L1779.0 1008.1 L1782.0 1008.6 L1785.0 1009.1 L1788.0 1009.6 L1791.0 1010.0 L1794.0 1010.5 L1797.0 1011.0 L1800.0 1011.4 L1803.0 1011.9 L1806.0 1012.3 L1809.0 1012.8 L1812.0 1013.2 L1815.0 1013.6 L1818.0 1014.1 L1821.0 1014.5 L1824.0 1014.9 L1827.0 1015.3 L1830.0 1015.7 L1833.0 1016.1 L1836.0 1016.5 L1839.0 1016.9 L1842.0 1017.3 L1845.0 1017.7 L1848.0 1018.1 L1851.0 1018.5 L1854.0 1018.9 L1857.0 1019.2 L1860.0 1019.6 L1863.0 1020.0 L1866.0 1020.3 L1869.0 1020.7 L1872.0 1021.1 L1875.0 1021.4 L1878.0 1021.8 L1881.0 1022.1 L1884.0 1022.5 L1887.0 1022.9 L1890.0 1023.2 L1893.0 1023.6 L1896.0 1023.9 L1899.0 1024.2 L1902.0 1024.6 L1905.0 1024.9 L1908.0 1025.3 L1911.0 1025.6 L1914.0 1026.0 L1917.0 1026.3 L1920.0 1026.6 L1923.0 1027.0 L1926.0 1027.3 L1929.0 1027.6 L1932.0 1028.0 L1935.0 1028.3 L1938.0 1028.6 L1941.0 1029.0 L1944.0 1029.3 L1947.0 1029.6 L1950.0 1030.0 L1953.0 1030.3 L1956.0 1030.6 L1959.0 1031.0 L1962.0 1031.3 L1965.0 1031.6 L1968.0 1031.9 L1971.0 1032.3 L1974.0 1032.6 L1977.0 1032.9 L1980.0 1033.2 L1983.0 1033.6 L1986.0 1033.9 L1989.0 1034.2 L1992.0 1034.6 L1995.0 1034.9 L1998.0 1035.2" fill="none" stroke="#000000" stroke-width="5.0" stroke-linejoin="round"/>
<path d="M1206.0 320.5 L1209.0 325.4 L1212.0 330.3 L1215.0 335.2 L1218.0 340.1 L1221.0 345.0 L1224.0 349.8 L1227.0 354.7 L1230.0 359.5 L1233.0 364.2 L1236.0 369.0 L1239.0 373.8 L1242.0 378.5 L1245.0 383.2 L1248.0 387.9 L1251.0 392.5 L1254.0 397.2 L1257.0 401.8 L1260.0 406.4 L1263.0 411.0 L1266.0 415.5 L1269.0 420.1 L1272.0 424.6 L1275.0 429.1 L1278.0 433.5 L1281.0 438.0 L1284.0 442.4 L1287.0 446.7 L1290.0 451.1 L1293.0 455.4 L1296.0 459.7 L1299.0 464.0 L1302.0 468.2 L1305.0 472.4 L1308.0 476.6 L1311.0 480.8 L1314.0 484.9 L1317.0 488.9 L1320.0 493.0 L1323.0 497.0 L1326.0 501.0 L1329.0 504.9 L1332.0 508.8 L1335.0 512.7 L1338.0 516.5 L1341.0 520.3 L1344.0 524.0 L1347.0 527.7 L1350.0 531.4 L1353.0 535.0 L1356.0 538.6 L1359.0 542.2 L1362.0 545.7 L1365.0 549.1 L1368.0 552.5 L1371.0 555.9 L1374.0 559.3 L1377.0 562.6 L1380.0 565.8 L1383.0 569.0 L1386.0 572.2 L1389.0 575.3 L1392.0 578.4 L1395.0 581.4 L1398.0 584.5 L1401.0 587.4 L1404.0 590.3 L1407.0 593.2 L1410.0 596.0 L1413.0 598.8 L1416.0 601.6 L1419.0 604.3 L1422.0 607.0 L1425.0 609.6 L1428.0 612.2 L1431.0 614.8 L1434.0 617.3 L1437.0 619.8 L1440.0 622.3 L1443.0 624.7 L1446.0 627.0 L1449.0 629.4 L1452.0 631.7 L1455.0 634.0 L1458.0 636.2 L1461.0 638.4 L1464.0 640.6 L1467.0 642.7 L1470.0 644.8 L1473.0 646.9 L1476.0 648.9 L1479.0 651.0 L1482.0 652.9 L1485.0 654.9 L1488.0 656.8 L1491.0 658.7 L1494.0 660.6 L1497.0 662.4 L1500.0 664.3 L1503.0 666.1 L1506.0 667.8 L1509.0 669.6 L1512.0 671.3 L1515.0 673.0 L1518.0 674.7 L1521.0 676.4 L1524.0 678.0 L1527.0 679.6 L1530.0 681.2 L1533.0 682.8 L1536.0 684.4 L1539.0 685.9 L1542.0 687.5 L1545.0 689.0 L1548.0 690.5 L1551.0 692.0 L1554.0 693.5 L1557.0 694.9 L1560.0 696.4 L1563.0 697.8 L1566.0 699.2 L1569.0 700.7 L1572.0 702.1 L1575.0 703.5 L1578.0 704.9 L1581.0 706.3 L1584.0 707.7 L1587.0 709.0 L1590.0 710.4 L1593.0 711.8 L1596.0 713.2 L1599.0 714.5 L1602.0 715.9 L1605.0 717.3 L1608.0 718.6 L1611.0 720.0 L1614.0 721.4 L1617.0 722.7 L1620.0 724.1 L1623.0 725.5 L1626.0 726.9 L1629.0 728.2 L1632.0 729.6 L1635.0 731.0 L1638.0 732.4 L1641.0 733.8 L1644.0 735.2 L1647.0 736.6 L1650.0 738.0 L1653.0 739.5 L1656.0 740.9 L1659.0 742.3 L1662.0 743.8 L1665.0 745.2 L1668.0 746.7 L1671.0 748.2 L1674.0 749.6 L1677.0 751.1 L1680.0 752.6 L1683.0 754.1 L1686.0 755.6 L1689.0 757.1 L1692.0 758.7 L1695.0 760.2 L1698.0 761.7 L1701.0 763.3 L1704.0 764.8 L1707.0 766.4 L1710.0 767.9 L1713.0 769.5 L1716.0 771.1 L1719.0 772.6 L1722.0 774.2 L1725.0 775.8 L1728.0 777.4 L1731.0 779.0 L1734.0 780.6 L1737.0 782.2 L1740.0 783.8 L1743.0 785.4 L1746.0 787.0 L1749.0 788.6 L1752.0 790.2 L1755.0 791.8 L1758.0 793.4 L1761.0 795.0 L1764.0 796.6 L1767.0 798.2 L1770.0 799.8 L1773.0 801.4 L1776.0 803.0 L1779.0 804.6 L1782.0 806.2 L1785.0 807.7 L1788.0 809.3 L1791.0 810.9 L1794.0 812.4 L1797.0 814.0 L1800.0 815.5 L1803.0 817.1 L1806.0 818.6 L1809.0 820.1 L1812.0 821.6 L1815.0 823.1 L1818.0 824.6 L1821.0 826.1 L1824.0 827.6 L1827.0 829.1 L1830.0 830.5 L1833.0 832.0 L1836.0 833.4 L1839.0 834.9 L1842.0 836.3 L1845.0 837.7 L1848.0 839.1 L1851.0 840.5 L1854.0 841.9 L1857.0 843.3 L1860.0 844.6 L1863.0 846.0 L1866.0 847.3 L1869.0 848.7 L1872.0 850.0 L1875.0 851.3 L1878.0 852.6 L1881.0 853.9 L1884.0 855.2 L1887.0 856.5 L1890.0 857.7 L1893.0 859.0 L1896.0 860.2 L1899.0 861.5 L1902.0 862.7 L1905.0 863.9 L1908.0 865.1 L1911.0 866.3 L1914.0 867.5 L1917.0 868.7 L1920.0 869.9 L1923.0 871.1 L1926.0 872.2 L1929.0 873.4 L1932.0 874.5 L1935.0 875.6 L1938.0 876.8 L1941.0 877.9 L1944.0 879.0 L1947.0 880.1 L1950.0 881.2 L1953.0 882.2 L1956.0 883.3 L1959.0 884.4 L1962.0 885.4 L1965.0 886.4 L1968.0 887.5 L1971.0 888.5 L1974.0 889.5 L1977.0 890.5 L1980.0 891.5 L1983.0 892.5 L1986.0 893.5 L1989.0 894.4 L1992.0 895.4 L1995.0 896.4 L1998.0 897.3" fill="none" stroke="#000000" stroke-width="5.0" stroke-linejoin="round"/>
<path d="M1206.0 138.2 L1209.0 140.4 L1212.0 142.7 L1215.0 145.0 L1218.0 147.4 L1221.0 149.8 L1224.0 152.2 L1227.0 154.7 L1230.0 157.2 L1233.0 159.7 L1236.0 162.3 L1239.0 164.9 L1242.0 167.5 L1245.0 170.2 L1248.0 172.9 L1251.0 175.7 L1254.0 178.5 L1257.0 181.3 L1260.0 184.2 L1263.0 187.1 L1266.0 190.0 L1269.0 193.0 L1272.0 196.0 L1275.0 199.1 L1278.0 202.1 L1281.0 205.3 L1284.0 208.4 L1287.0 211.6 L1290.0 214.9 L1293.0 218.1 L1296.0 221.4 L1299.0 224.8 L1302.0 228.2 L1305.0 231.6 L1308.0 235.0 L1311.0 238.5 L1314.0 242.0 L1317.0 245.6 L1320.0 249.2 L1323.0 252.8 L1326.0 256.5 L1329.0 260.2 L1332.0 264.0 L1335.0 267.8 L1338.0 271.6 L1341.0 275.4 L1344.0 279.3 L1347.0 283.2 L1350.0 287.2 L1353.0 291.2 L1356.0 295.2 L1359.0 299.3 L1362.0 303.4 L1365.0 307.6 L1368.0 311.7 L1371.0 316.0 L1374.0 320.2 L1377.0 324.5 L1380.0 328.8 L1383.0 333.2 L1386.0 337.6 L1389.0 342.0 L1392.0 346.4 L1395.0 350.9 L1398.0 355.5 L1401.0 360.0 L1404.0 364.6 L1407.0 369.2 L1410.0 373.9 L1413.0 378.6 L1416.0 383.3 L1419.0 388.1 L1422.0 392.8 L1425.0 397.6 L1428.0 402.5 L1431.0 407.3 L1434.0 412.2 L1437.0 417.1 L1440.0 422.0 L1443.0 426.9 L1446.0 431.8 L1449.0 436.8 L1452.0 441.7 L1455.0 446.7 L1458.0 451.7 L1461.0 456.7 L1464.0 461.6 L1467.0 466.6 L1470.0 471.6 L1473.0 476.6 L1476.0 481.5 L1479.0 486.4 L1482.0 491.3 L1485.0 496.2 L1488.0 501.1 L1491.0 506.0 L1494.0 510.8 L1497.0 515.6 L1500.0 520.4 L1503.0 525.1 L1506.0 529.8 L1509.0 534.5 L1512.0 539.1 L1515.0 543.7 L1518.0 548.2 L1521.0 552.7 L1524.0 557.2 L1527.0 561.6 L1530.0 566.0 L1533.0 570.3 L1536.0 574.5 L1539.0 578.7 L1542.0 582.9 L1545.0 587.0 L1548.0 591.1 L1551.0 595.1 L1554.0 599.1 L1557.0 603.0 L1560.0 606.8 L1563.0 610.6 L1566.0 614.4 L1569.0 618.1 L1572.0 621.7 L1575.0 625.3 L1578.0 628.8 L1581.0 632.3 L1584.0 635.7 L1587.0 639.1 L1590.0 642.4 L1593.0 645.7 L1596.0 648.9 L1599.0 652.0 L1602.0 655.2 L1605.0 658.2 L1608.0 661.2 L1611.0 664.2 L1614.0 667.1 L1617.0 670.0 L1620.0 672.8 L1623.0 675.6 L1626.0 678.3 L1629.0 681.0 L1632.0 683.6 L1635.0 686.1 L1638.0 688.7 L1641.0 691.1 L1644.0 693.6 L1647.0 696.0 L1650.0 698.3 L1653.0 700.6 L1656.0 702.8 L1659.0 705.0 L1662.0 707.1 L1665.0 709.2 L1668.0 711.3 L1671.0 713.3 L1674.0 715.3 L1677.0 717.2 L1680.0 719.1 L1683.0 720.9 L1686.0 722.7 L1689.0 724.4 L1692.0 726.1 L1695.0 727.8 L1698.0 729.4 L1701.0 731.0 L1704.0 732.5 L1707.0 734.0 L1710.0 735.4 L1713.0 736.9 L1716.0 738.2 L1719.0 739.6 L1722.0 740.9 L1725.0 742.1 L1728.0 743.3 L1731.0 744.5 L1734.0 745.7 L1737.0 746.8 L1740.0 747.9 L1743.0 748.9 L1746.0 750.0 L1749.0 751.0 L1752.0 751.9 L1755.0 752.9 L1758.0 753.8 L1761.0 754.6 L1764.0 755.5 L1767.0 756.3 L1770.0 757.1 L1773.0 757.9 L1776.0 758.7 L1779.0 759.5 L1782.0 760.2 L1785.0 760.9 L1788.0 761.6 L1791.0 762.3 L1794.0 763.0 L1797.0 763.6 L1800.0 764.3 L1803.0 764.9 L1806.0 765.5 L1809.0 766.2 L1812.0 766.8 L1815.0 767.4 L1818.0 768.0 L1821.0 768.5 L1824.0 769.1 L1827.0 769.7 L1830.0 770.3 L1833.0 770.8 L1836.0 771.4 L1839.0 771.9 L1842.0 772.5 L1845.0 773.0 L1848.0 773.6 L1851.0 774.1 L1854.0 774.6 L1857.0 775.2 L1860.0 775.7 L1863.0 776.2 L1866.0 776.8 L1869.0 777.3 L1872.0 777.8 L1875.0 778.3 L1878.0 778.8 L1881.0 779.3 L1884.0 779.9 L1887.0 780.4 L1890.0 780.9 L1893.0 781.4 L1896.0 781.9 L1899.0 782.4 L1902.0 782.9 L1905.0 783.4 L1908.0 783.9 L1911.0 784.4 L1914.0 784.9 L1917.0 785.4 L1920.0 785.9 L1923.0 786.4 L1926.0 786.8 L1929.0 787.3 L1932.0 787.8 L1935.0 788.3 L1938.0 788.8 L1941.0 789.3 L1944.0 789.7 L1947.0 790.2 L1950.0 790.7 L1953.0 791.2 L1956.0 791.6 L1959.0 792.1 L1962.0 792.6 L1965.0 793.1 L1968.0 793.5 L1971.0 794.0 L1974.0 794.4 L1977.0 794.9 L1980.0 795.4 L1983.0 795.8 L1986.0 796.3 L1989.0 796.7 L1992.0 797.2 L1995.0 797.6 L1998.0 798.1" fill="none" stroke="#000000" stroke-width="5.0" stroke-linejoin="round"/>
<path d="M1206.0 138.2 L1209.0 139.6 L1212.0 141.0 L1215.0 142.5 L1218.0 143.9 L1221.0 145.3 L1224.0 146.8 L1227.0 148.2 L1230.0 149.7 L1233.0 151.1 L1236.0 152.6 L1239.0 154.1 L1242.0 155.5 L1245.0 157.0 L1248.0 158.5 L1251.0 160.0 L1254.0 161.5 L1257.0 163.0 L1260.0 164.5 L1263.0 166.0 L1266.0 167.5 L1269.0 169.0 L1272.0 170.6 L1275.0 172.1 L1278.0 173.6 L1281.0 175.2 L1284.0 176.7 L1287.0 178.3 L1290.0 179.8 L1293.0 181.4 L1296.0 183.0 L1299.0 184.5 L1302.0 186.1 L1305.0 187.7 L1308.0 189.3 L1311.0 190.9 L1314.0 192.5 L1317.0 194.1 L1320.0 195.7 L1323.0 197.3 L1326.0 199.0 L1329.0 200.6 L1332.0 202.3 L1335.0 203.9 L1338.0 205.6 L1341.0 207.2 L1344.0 208.9 L1347.0 210.6 L1350.0 212.3 L1353.0 213.9 L1356.0 215.6 L1359.0 217.3 L1362.0 219.1 L1365.0 220.8 L1368.0 222.5 L1371.0 224.2 L1374.0 226.0 L1377.0 227.7 L1380.0 229.5 L1383.0 231.3 L1386.0 233.1 L1389.0 234.8 L1392.0 236.6 L1395.0 238.4 L1398.0 240.2 L1401.0 242.1 L1404.0 243.9 L1407.0 245.7 L1410.0 247.6 L1413.0 249.4 L1416.0 251.3 L1419.0 253.2 L1422.0 255.1 L1425.0 257.0 L1428.0 258.9 L1431.0 260.8 L1434.0 262.7 L1437.0 264.6 L1440.0 266.6 L1443.0 268.5 L1446.0 270.5 L1449.0 272.4 L1452.0 274.4 L1455.0 276.4 L1458.0 278.4 L1461.0 280.4 L1464.0 282.4 L1467.0 284.4 L1470.0 286.5 L1473.0 288.5 L1476.0 290.5 L1479.0 292.6 L1482.0 294.7 L1485.0 296.7 L1488.0 298.8 L1491.0 300.9 L1494.0 303.0 L1497.0 305.1 L1500.0 307.3 L1503.0 309.4 L1506.0 311.5 L1509.0 313.7 L1512.0 315.8 L1515.0 318.0 L1518.0 320.1 L1521.0 322.3 L1524.0 324.5 L1527.0 326.7 L1530.0 328.8 L1533.0 331.0 L1536.0 333.3 L1539.0 335.5 L1542.0 337.7 L1545.0 339.9 L1548.0 342.1 L1551.0 344.4 L1554.0 346.6 L1557.0 348.9 L1560.0 351.1 L1563.0 353.4 L1566.0 355.7 L1569.0 358.0 L1572.0 360.2 L1575.0 362.5 L1578.0 364.8 L1581.0 367.1 L1584.0 369.5 L1587.0 371.8 L1590.0 374.1 L1593.0 376.4 L1596.0 378.8 L1599.0 381.1 L1602.0 383.5 L1605.0 385.8 L1608.0 388.2 L1611.0 390.6 L1614.0 393.0 L1617.0 395.3 L1620.0 397.7 L1623.0 400.1 L1626.0 402.5 L1629.0 404.9 L1632.0 407.4 L1635.0 409.8 L1638.0 412.2 L1641.0 414.6 L1644.0 417.1 L1647.0 419.5 L1650.0 421.9 L1653.0 424.4 L1656.0 426.8 L1659.0 429.3 L1662.0 431.7 L1665.0 434.2 L1668.0 436.6 L1671.0 439.1 L1674.0 441.5 L1677.0 444.0 L1680.0 446.4 L1683.0 448.9 L1686.0 451.4 L1689.0 453.8 L1692.0 456.3 L1695.0 458.7 L1698.0 461.2 L1701.0 463.6 L1704.0 466.1 L1707.0 468.5 L1710.0 471.0 L1713.0 473.4 L1716.0 475.9 L1719.0 478.3 L1722.0 480.8 L1725.0 483.2 L1728.0 485.6 L1731.0 488.1 L1734.0 490.5 L1737.0 492.9 L1740.0 495.3 L1743.0 497.8 L1746.0 500.2 L1749.0 502.6 L1752.0 505.0 L1755.0 507.4 L1758.0 509.8 L1761.0 512.2 L1764.0 514.6 L1767.0 517.0 L1770.0 519.4 L1773.0 521.8 L1776.0 524.2 L1779.0 526.6 L1782.0 529.0 L1785.0 531.4 L1788.0 533.8 L1791.0 536.2 L1794.0 538.6 L1797.0 541.0 L1800.0 543.4 L1803.0 545.8 L1806.0 548.2 L1809.0 550.5 L1812.0 552.9 L1815.0 555.3 L1818.0 557.7 L1821.0 560.1 L1824.0 562.4 L1827.0 564.8 L1830.0 567.2 L1833.0 569.5 L1836.0 571.9 L1839.0 574.2 L1842.0 576.6 L1845.0 578.9 L1848.0 581.3 L1851.0 583.6 L1854.0 586.0 L1857.0 588.3 L1860.0 590.6 L1863.0 593.0 L1866.0 595.3 L1869.0 597.6 L1872.0 599.9 L1875.0 602.2 L1878.0 604.5 L1881.0 606.8 L1884.0 609.1 L1887.0 611.3 L1890.0 613.6 L1893.0 615.9 L1896.0 618.1 L1899.0 620.4 L1902.0 622.6 L1905.0 624.9 L1908.0 627.1 L1911.0 629.3 L1914.0 631.5 L1917.0 633.8 L1920.0 636.0 L1923.0 638.2 L1926.0 640.3 L1929.0 642.5 L1932.0 644.7 L1935.0 646.9 L1938.0 649.0 L1941.0 651.2 L1944.0 653.4 L1947.0 655.5 L1950.0 657.6 L1953.0 659.8 L1956.0 661.9 L1959.0 664.0 L1962.0 666.1 L1965.0 668.2 L1968.0 670.3 L1971.0 672.4 L1974.0 674.5 L1977.0 676.6 L1980.0 678.6 L1983.0 680.7 L1986.0 682.8 L1989.0 684.8 L1992.0 686.8 L1995.0 688.9 L1998.0 690.9" fill="none" stroke="#000000" stroke-width="5.0" stroke-linejoin="round"/>
<path d="M1206.0 619.2 L1209.0 624.3 L1212.0 629.5 L1215.0 634.6 L1218.0 639.7 L1221.0 644.8 L1224.0 649.9 L1227.0 655.0 L1230.0 660.0 L1233.0 665.1 L1236.0 670.1 L1239.0 675.1 L1242.0 680.1 L1245.0 685.1 L1248.0 690.1 L1251.0 695.1 L1254.0 700.0 L1257.0 704.9 L1260.0 709.8 L1263.0 714.7 L1266.0 719.6 L1269.0 724.4 L1272.0 729.3 L1275.0 734.1 L1278.0 738.8 L1281.0 743.6 L1284.0 748.3 L1287.0 753.0 L1290.0 757.6 L1293.0 762.3 L1296.0 766.9 L1299.0 771.4 L1302.0 776.0 L1305.0 780.4 L1308.0 784.9 L1311.0 789.3 L1314.0 793.7 L1317.0 798.1 L1320.0 802.4 L1323.0 806.6 L1326.0 810.8 L1329.0 815.0 L1332.0 819.1 L1335.0 823.2 L1338.0 827.3 L1341.0 831.3 L1344.0 835.2 L1347.0 839.1 L1350.0 842.9 L1353.0 846.7 L1356.0 850.5 L1359.0 854.2 L1362.0 857.8 L1365.0 861.4 L1368.0 864.9 L1371.0 868.4 L1374.0 871.8 L1377.0 875.2 L1380.0 878.5 L1383.0 881.8 L1386.0 885.0 L1389.0 888.2 L1392.0 891.3 L1395.0 894.3 L1398.0 897.3 L1401.0 900.3 L1404.0 903.2 L1407.0 906.0 L1410.0 908.8 L1413.0 911.5 L1416.0 914.2 L1419.0 916.9 L1422.0 919.5 L1425.0 922.0 L1428.0 924.5 L1431.0 927.0 L1434.0 929.4 L1437.0 931.7 L1440.0 934.1 L1443.0 936.4 L1446.0 938.6 L1449.0 940.8 L1452.0 943.0 L1455.0 945.1 L1458.0 947.2 L1461.0 949.2 L1464.0 951.3 L1467.0 953.2 L1470.0 955.2 L1473.0 957.1 L1476.0 959.0 L1479.0 960.8 L1482.0 962.6 L1485.0 964.4 L1488.0 966.2 L1491.0 967.9 L1494.0 969.6 L1497.0 971.3 L1500.0 972.9 L1503.0 974.5 L1506.0 976.1 L1509.0 977.7 L1512.0 979.2 L1515.0 980.7 L1518.0 982.2 L1521.0 983.7 L1524.0 985.1 L1527.0 986.6 L1530.0 987.9 L1533.0 989.3 L1536.0 990.7 L1539.0 992.0 L1542.0 993.3 L1545.0 994.6 L1548.0 995.9 L1551.0 997.1 L1554.0 998.3 L1557.0 999.5 L1560.0 1000.7 L1563.0 1001.9 L1566.0 1003.1 L1569.0 1004.2 L1572.0 1005.3 L1575.0 1006.4 L1578.0 1007.5 L1581.0 1008.6 L1584.0 1009.7 L1587.0 1010.7 L1590.0 1011.8 L1593.0 1012.8 L1596.0 1013.8 L1599.0 1014.8 L1602.0 1015.8 L1605.0 1016.8 L1608.0 1017.7 L1611.0 1018.7 L1614.0 1019.7 L1617.0 1020.6 L1620.0 1021.5 L1623.0 1022.4 L1626.0 1023.4 L1629.0 1024.3 L1632.0 1025.2 L1635.0 1026.1 L1638.0 1026.9 L1641.0 1027.8 L1644.0 1028.7 L1647.0 1029.6 L1650.0 1030.4 L1653.0 1031.3 L1656.0 1032.1 L1659.0 1032.9 L1662.0 1033.8 L1665.0 1034.6 L1668.0 1035.4 L1671.0 1036.2 L1674.0 1037.0 L1677.0 1037.8 L1680.0 1038.6 L1683.0 1039.4 L1686.0 1040.2 L1689.0 1041.0 L1692.0 1041.7 L1695.0 1042.5 L1698.0 1043.2 L1701.0 1044.0 L1704.0 1044.7 L1707.0 1045.4 L1710.0 1046.1 L1713.0 1046.8 L1716.0 1047.5 L1719.0 1048.2 L1722.0 1048.9 L1725.0 1049.5 L1728.0 1050.2 L1731.0 1050.8 L1734.0 1051.5 L1737.0 1052.1 L1740.0 1052.7 L1743.0 1053.3 L1746.0 1053.9 L1749.0 1054.5 L1752.0 1055.1 L1755.0 1055.6 L1758.0 1056.2 L1761.0 1056.7 L1764.0 1057.3 L1767.0 1057.8 L1770.0 1058.3 L1773.0 1058.8 L1776.0 1059.3 L1779.0 1059.8 L1782.0 1060.3 L1785.0 1060.8 L1788.0 1061.3 L1791.0 1061.7 L1794.0 1062.2 L1797.0 1062.6 L1800.0 1063.1 L1803.0 1063.5 L1806.0 1063.9 L1809.0 1064.4 L1812.0 1064.8 L1815.0 1065.2 L1818.0 1065.6 L1821.0 1066.0 L1824.0 1066.4 L1827.0 1066.7 L1830.0 1067.1 L1833.0 1067.5 L1836.0 1067.9 L1839.0 1068.2 L1842.0 1068.6 L1845.0 1069.0 L1848.0 1069.3 L1851.0 1069.7 L1854.0 1070.0 L1857.0 1070.4 L1860.0 1070.7 L1863.0 1071.0 L1866.0 1071.4 L1869.0 1071.7 L1872.0 1072.1 L1875.0 1072.4 L1878.0 1072.7 L1881.0 1073.0 L1884.0 1073.4 L1887.0 1073.7 L1890.0 1074.0 L1893.0 1074.4 L1896.0 1074.7 L1899.0 1075.0 L1902.0 1075.3 L1905.0 1075.7 L1908.0 1076.0 L1911.0 1076.3 L1914.0 1076.6 L1917.0 1077.0 L1920.0 1077.3 L1923.0 1077.6 L1926.0 1078.0 L1929.0 1078.3 L1932.0 1078.6 L1935.0 1079.0 L1938.0 1079.3 L1941.0 1079.6 L1944.0 1080.0 L1947.0 1080.3 L1950.0 1080.7 L1953.0 1081.0 L1956.0 1081.3 L1959.0 1081.7 L1962.0 1082.0 L1965.0 1082.4 L1968.0 1082.7 L1971.0 1083.1 L1974.0 1083.4 L1977.0 1083.8 L1980.0 1084.1 L1983.0 1084.5 L1986.0 1084.9 L1989.0 1085.2 L1992.0 1085.6 L1995.0 1085.9 L1998.0 1086.3" fill="none" stroke="#ff0000" stroke-width="5.0" stroke-linejoin="round"/>
<path d="M1206.0 369.5 L1209.0 374.4 L1212.0 379.3 L1215.0 384.2 L1218.0 389.1 L1221.0 394.0 L1224.0 398.8 L1227.0 403.7 L1230.0 408.5 L1233.0 413.3 L1236.0 418.1 L1239.0 422.8 L1242.0 427.6 L1245.0 432.3 L1248.0 437.0 L1251.0 441.7 L1254.0 446.4 L1257.0 451.1 L1260.0 455.7 L1263.0 460.3 L1266.0 464.9 L1269.0 469.5 L1272.0 474.0 L1275.0 478.6 L1278.0 483.1 L1281.0 487.6 L1284.0 492.0 L1287.0 496.4 L1290.0 500.8 L1293.0 505.2 L1296.0 509.6 L1299.0 513.9 L1302.0 518.2 L1305.0 522.4 L1308.0 526.7 L1311.0 530.8 L1314.0 535.0 L1317.0 539.1 L1320.0 543.2 L1323.0 547.3 L1326.0 551.3 L1329.0 555.3 L1332.0 559.3 L1335.0 563.2 L1338.0 567.1 L1341.0 570.9 L1344.0 574.7 L1347.0 578.5 L1350.0 582.2 L1353.0 585.9 L1356.0 589.5 L1359.0 593.1 L1362.0 596.7 L1365.0 600.2 L1368.0 603.7 L1371.0 607.1 L1374.0 610.5 L1377.0 613.8 L1380.0 617.1 L1383.0 620.4 L1386.0 623.6 L1389.0 626.8 L1392.0 629.9 L1395.0 633.0 L1398.0 636.0 L1401.0 639.0 L1404.0 641.9 L1407.0 644.8 L1410.0 647.7 L1413.0 650.5 L1416.0 653.3 L1419.0 656.0 L1422.0 658.7 L1425.0 661.3 L1428.0 663.9 L1431.0 666.5 L1434.0 669.0 L1437.0 671.5 L1440.0 673.9 L1443.0 676.3 L1446.0 678.6 L1449.0 680.9 L1452.0 683.2 L1455.0 685.4 L1458.0 687.6 L1461.0 689.8 L1464.0 691.9 L1467.0 694.0 L1470.0 696.1 L1473.0 698.1 L1476.0 700.1 L1479.0 702.0 L1482.0 704.0 L1485.0 705.9 L1488.0 707.8 L1491.0 709.6 L1494.0 711.4 L1497.0 713.2 L1500.0 715.0 L1503.0 716.8 L1506.0 718.5 L1509.0 720.2 L1512.0 721.9 L1515.0 723.6 L1518.0 725.2 L1521.0 726.8 L1524.0 728.4 L1527.0 730.0 L1530.0 731.6 L1533.0 733.2 L1536.0 734.7 L1539.0 736.2 L1542.0 737.7 L1545.0 739.2 L1548.0 740.7 L1551.0 742.2 L1554.0 743.7 L1557.0 745.1 L1560.0 746.5 L1563.0 748.0 L1566.0 749.4 L1569.0 750.8 L1572.0 752.2 L1575.0 753.6 L1578.0 754.9 L1581.0 756.3 L1584.0 757.7 L1587.0 759.0 L1590.0 760.4 L1593.0 761.7 L1596.0 763.1 L1599.0 764.4 L1602.0 765.8 L1605.0 767.1 L1608.0 768.4 L1611.0 769.8 L1614.0 771.1 L1617.0 772.4 L1620.0 773.8 L1623.0 775.1 L1626.0 776.5 L1629.0 777.8 L1632.0 779.2 L1635.0 780.5 L1638.0 781.9 L1641.0 783.2 L1644.0 784.6 L1647.0 786.0 L1650.0 787.4 L1653.0 788.8 L1656.0 790.2 L1659.0 791.6 L1662.0 793.0 L1665.0 794.5 L1668.0 795.9 L1671.0 797.3 L1674.0 798.8 L1677.0 800.3 L1680.0 801.7 L1683.0 803.2 L1686.0 804.7 L1689.0 806.2 L1692.0 807.7 L1695.0 809.2 L1698.0 810.7 L1701.0 812.3 L1704.0 813.8 L1707.0 815.3 L1710.0 816.9 L1713.0 818.5 L1716.0 820.0 L1719.0 821.6 L1722.0 823.2 L1725.0 824.8 L1728.0 826.3 L1731.0 827.9 L1734.0 829.5 L1737.0 831.1 L1740.0 832.7 L1743.0 834.3 L1746.0 836.0 L1749.0 837.6 L1752.0 839.2 L1755.0 840.8 L1758.0 842.4 L1761.0 844.0 L1764.0 845.6 L1767.0 847.2 L1770.0 848.8 L1773.0 850.5 L1776.0 852.1 L1779.0 853.7 L1782.0 855.3 L1785.0 856.8 L1788.0 858.4 L1791.0 860.0 L1794.0 861.6 L1797.0 863.1 L1800.0 864.7 L1803.0 866.2 L1806.0 867.8 L1809.0 869.3 L1812.0 870.8 L1815.0 872.3 L1818.0 873.8 L1821.0 875.3 L1824.0 876.8 L1827.0 878.3 L1830.0 879.7 L1833.0 881.2 L1836.0 882.6 L1839.0 884.0 L1842.0 885.5 L1845.0 886.9 L1848.0 888.2 L1851.0 889.6 L1854.0 891.0 L1857.0 892.4 L1860.0 893.7 L1863.0 895.0 L1866.0 896.4 L1869.0 897.7 L1872.0 899.0 L1875.0 900.3 L1878.0 901.6 L1881.0 902.9 L1884.0 904.1 L1887.0 905.4 L1890.0 906.7 L1893.0 907.9 L1896.0 909.1 L1899.0 910.4 L1902.0 911.6 L1905.0 912.8 L1908.0 914.1 L1911.0 915.3 L1914.0 916.5 L1917.0 917.7 L1920.0 918.9 L1923.0 920.1 L1926.0 921.3 L1929.0 922.5 L1932.0 923.6 L1935.0 924.8 L1938.0 926.0 L1941.0 927.2 L1944.0 928.3 L1947.0 929.5 L1950.0 930.7 L1953.0 931.8 L1956.0 933.0 L1959.0 934.2 L1962.0 935.3 L1965.0 936.5 L1968.0 937.6 L1971.0 938.8 L1974.0 939.9 L1977.0 941.1 L1980.0 942.2 L1983.0 943.3 L1986.0 944.5 L1989.0 945.6 L1992.0 946.7 L1995.0 947.9 L1998.0 949.0" fill="none" stroke="#ff0000" stroke-width="5.0" stroke-linejoin="round"/>
<path d="M1206.0 183.2 L1209.0 185.6 L1212.0 188.0 L1215.0 190.4 L1218.0 192.9 L1221.0 195.4 L1224.0 197.9 L1227.0 200.4 L1230.0 203.0 L1233.0 205.6 L1236.0 208.2 L1239.0 210.9 L1242.0 213.6 L1245.0 216.3 L1248.0 219.0 L1251.0 221.8 L1254.0 224.6 L1257.0 227.4 L1260.0 230.2 L1263.0 233.1 L1266.0 236.0 L1269.0 239.0 L1272.0 241.9 L1275.0 244.9 L1278.0 248.0 L1281.0 251.0 L1284.0 254.1 L1287.0 257.3 L1290.0 260.4 L1293.0 263.6 L1296.0 266.8 L1299.0 270.1 L1302.0 273.4 L1305.0 276.7 L1308.0 280.1 L1311.0 283.5 L1314.0 287.0 L1317.0 290.5 L1320.0 294.0 L1323.0 297.6 L1326.0 301.2 L1329.0 304.9 L1332.0 308.6 L1335.0 312.4 L1338.0 316.2 L1341.0 320.0 L1344.0 323.9 L1347.0 327.8 L1350.0 331.8 L1353.0 335.9 L1356.0 339.9 L1359.0 344.1 L1362.0 348.2 L1365.0 352.4 L1368.0 356.7 L1371.0 361.0 L1374.0 365.4 L1377.0 369.8 L1380.0 374.2 L1383.0 378.7 L1386.0 383.3 L1389.0 387.8 L1392.0 392.4 L1395.0 397.1 L1398.0 401.8 L1401.0 406.5 L1404.0 411.2 L1407.0 416.0 L1410.0 420.8 L1413.0 425.7 L1416.0 430.5 L1419.0 435.4 L1422.0 440.3 L1425.0 445.2 L1428.0 450.2 L1431.0 455.2 L1434.0 460.1 L1437.0 465.1 L1440.0 470.1 L1443.0 475.1 L1446.0 480.1 L1449.0 485.1 L1452.0 490.2 L1455.0 495.2 L1458.0 500.2 L1461.0 505.2 L1464.0 510.2 L1467.0 515.1 L1470.0 520.1 L1473.0 525.1 L1476.0 530.0 L1479.0 534.9 L1482.0 539.8 L1485.0 544.7 L1488.0 549.6 L1491.0 554.4 L1494.0 559.2 L1497.0 564.0 L1500.0 568.7 L1503.0 573.4 L1506.0 578.1 L1509.0 582.8 L1512.0 587.4 L1515.0 592.0 L1518.0 596.5 L1521.0 601.0 L1524.0 605.5 L1527.0 609.9 L1530.0 614.3 L1533.0 618.6 L1536.0 622.9 L1539.0 627.2 L1542.0 631.4 L1545.0 635.5 L1548.0 639.6 L1551.0 643.7 L1554.0 647.7 L1557.0 651.7 L1560.0 655.6 L1563.0 659.4 L1566.0 663.2 L1569.0 667.0 L1572.0 670.7 L1575.0 674.4 L1578.0 678.0 L1581.0 681.5 L1584.0 685.0 L1587.0 688.5 L1590.0 691.9 L1593.0 695.2 L1596.0 698.5 L1599.0 701.8 L1602.0 705.0 L1605.0 708.1 L1608.0 711.2 L1611.0 714.2 L1614.0 717.2 L1617.0 720.1 L1620.0 723.0 L1623.0 725.8 L1626.0 728.5 L1629.0 731.3 L1632.0 733.9 L1635.0 736.5 L1638.0 739.1 L1641.0 741.6 L1644.0 744.1 L1647.0 746.5 L1650.0 748.8 L1653.0 751.1 L1656.0 753.4 L1659.0 755.6 L1662.0 757.8 L1665.0 759.9 L1668.0 762.0 L1671.0 764.0 L1674.0 766.0 L1677.0 767.9 L1680.0 769.8 L1683.0 771.7 L1686.0 773.5 L1689.0 775.2 L1692.0 777.0 L1695.0 778.7 L1698.0 780.3 L1701.0 781.9 L1704.0 783.5 L1707.0 785.0 L1710.0 786.5 L1713.0 788.0 L1716.0 789.4 L1719.0 790.8 L1722.0 792.1 L1725.0 793.4 L1728.0 794.7 L1731.0 795.9 L1734.0 797.1 L1737.0 798.3 L1740.0 799.5 L1743.0 800.6 L1746.0 801.7 L1749.0 802.7 L1752.0 803.7 L1755.0 804.7 L1758.0 805.7 L1761.0 806.6 L1764.0 807.5 L1767.0 808.4 L1770.0 809.3 L1773.0 810.1 L1776.0 811.0 L1779.0 811.7 L1782.0 812.5 L1785.0 813.3 L1788.0 814.0 L1791.0 814.7 L1794.0 815.4 L1797.0 816.1 L1800.0 816.8 L1803.0 817.4 L1806.0 818.1 L1809.0 818.7 L1812.0 819.4 L1815.0 820.0 L1818.0 820.6 L1821.0 821.2 L1824.0 821.7 L1827.0 822.3 L1830.0 822.9 L1833.0 823.4 L1836.0 824.0 L1839.0 824.5 L1842.0 825.1 L1845.0 825.6 L1848.0 826.1 L1851.0 826.7 L1854.0 827.2 L1857.0 827.7 L1860.0 828.2 L1863.0 828.7 L1866.0 829.2 L1869.0 829.7 L1872.0 830.2 L1875.0 830.7 L1878.0 831.2 L1881.0 831.7 L1884.0 832.2 L1887.0 832.7 L1890.0 833.1 L1893.0 833.6 L1896.0 834.1 L1899.0 834.6 L1902.0 835.0 L1905.0 835.5 L1908.0 836.0 L1911.0 836.4 L1914.0 836.9 L1917.0 837.4 L1920.0 837.8 L1923.0 838.3 L1926.0 838.7 L1929.0 839.2 L1932.0 839.6 L1935.0 840.1 L1938.0 840.5 L1941.0 841.0 L1944.0 841.4 L1947.0 841.9 L1950.0 842.3 L1953.0 842.8 L1956.0 843.2 L1959.0 843.6 L1962.0 844.1 L1965.0 844.5 L1968.0 844.9 L1971.0 845.4 L1974.0 845.8 L1977.0 846.2 L1980.0 846.7 L1983.0 847.1 L1986.0 847.5 L1989.0 847.9 L1992.0 848.4 L1995.0 848.8 L1998.0 849.2" fill="none" stroke="#ff0000" stroke-width="5.0" stroke-linejoin="round"/>
<path d="M1206.0 183.2 L1209.0 184.7 L1212.0 186.2 L1215.0 187.8 L1218.0 189.3 L1221.0 190.9 L1224.0 192.4 L1227.0 194.0 L1230.0 195.6 L1233.0 197.1 L1236.0 198.7 L1239.0 200.3 L1242.0 201.9 L1245.0 203.5 L1248.0 205.1 L1251.0 206.7 L1254.0 208.3 L1257.0 209.9 L1260.0 211.6 L1263.0 213.2 L1266.0 214.8 L1269.0 216.5 L1272.0 218.1 L1275.0 219.8 L1278.0 221.5 L1281.0 223.1 L1284.0 224.8 L1287.0 226.5 L1290.0 228.2 L1293.0 229.9 L1296.0 231.6 L1299.0 233.3 L1302.0 235.0 L1305.0 236.7 L1308.0 238.4 L1311.0 240.2 L1314.0 241.9 L1317.0 243.6 L1320.0 245.4 L1323.0 247.1 L1326.0 248.9 L1329.0 250.7 L1332.0 252.4 L1335.0 254.2 L1338.0 256.0 L1341.0 257.8 L1344.0 259.5 L1347.0 261.3 L1350.0 263.1 L1353.0 264.9 L1356.0 266.7 L1359.0 268.6 L1362.0 270.4 L1365.0 272.2 L1368.0 274.0 L1371.0 275.8 L1374.0 277.7 L1377.0 279.5 L1380.0 281.4 L1383.0 283.2 L1386.0 285.1 L1389.0 286.9 L1392.0 288.8 L1395.0 290.7 L1398.0 292.5 L1401.0 294.4 L1404.0 296.3 L1407.0 298.2 L1410.0 300.0 L1413.0 301.9 L1416.0 303.8 L1419.0 305.7 L1422.0 307.7 L1425.0 309.6 L1428.0 311.5 L1431.0 313.4 L1434.0 315.3 L1437.0 317.3 L1440.0 319.2 L1443.0 321.2 L1446.0 323.1 L1449.0 325.1 L1452.0 327.0 L1455.0 329.0 L1458.0 331.0 L1461.0 332.9 L1464.0 334.9 L1467.0 336.9 L1470.0 338.9 L1473.0 340.9 L1476.0 343.0 L1479.0 345.0 L1482.0 347.0 L1485.0 349.1 L1488.0 351.1 L1491.0 353.2 L1494.0 355.3 L1497.0 357.3 L1500.0 359.4 L1503.0 361.5 L1506.0 363.6 L1509.0 365.7 L1512.0 367.8 L1515.0 370.0 L1518.0 372.1 L1521.0 374.3 L1524.0 376.4 L1527.0 378.6 L1530.0 380.8 L1533.0 382.9 L1536.0 385.1 L1539.0 387.3 L1542.0 389.5 L1545.0 391.7 L1548.0 394.0 L1551.0 396.2 L1554.0 398.4 L1557.0 400.7 L1560.0 402.9 L1563.0 405.2 L1566.0 407.4 L1569.0 409.7 L1572.0 412.0 L1575.0 414.2 L1578.0 416.5 L1581.0 418.8 L1584.0 421.1 L1587.0 423.4 L1590.0 425.7 L1593.0 428.0 L1596.0 430.3 L1599.0 432.7 L1602.0 435.0 L1605.0 437.3 L1608.0 439.7 L1611.0 442.0 L1614.0 444.4 L1617.0 446.7 L1620.0 449.1 L1623.0 451.4 L1626.0 453.8 L1629.0 456.1 L1632.0 458.5 L1635.0 460.9 L1638.0 463.2 L1641.0 465.6 L1644.0 468.0 L1647.0 470.4 L1650.0 472.8 L1653.0 475.1 L1656.0 477.5 L1659.0 479.9 L1662.0 482.3 L1665.0 484.7 L1668.0 487.1 L1671.0 489.5 L1674.0 491.9 L1677.0 494.3 L1680.0 496.7 L1683.0 499.1 L1686.0 501.5 L1689.0 503.9 L1692.0 506.3 L1695.0 508.7 L1698.0 511.1 L1701.0 513.5 L1704.0 515.9 L1707.0 518.4 L1710.0 520.8 L1713.0 523.2 L1716.0 525.6 L1719.0 528.0 L1722.0 530.4 L1725.0 532.9 L1728.0 535.3 L1731.0 537.7 L1734.0 540.1 L1737.0 542.5 L1740.0 545.0 L1743.0 547.4 L1746.0 549.8 L1749.0 552.2 L1752.0 554.6 L1755.0 557.1 L1758.0 559.5 L1761.0 561.9 L1764.0 564.3 L1767.0 566.7 L1770.0 569.1 L1773.0 571.6 L1776.0 574.0 L1779.0 576.4 L1782.0 578.8 L1785.0 581.2 L1788.0 583.6 L1791.0 585.9 L1794.0 588.3 L1797.0 590.7 L1800.0 593.1 L1803.0 595.4 L1806.0 597.8 L1809.0 600.2 L1812.0 602.5 L1815.0 604.9 L1818.0 607.2 L1821.0 609.5 L1824.0 611.9 L1827.0 614.2 L1830.0 616.5 L1833.0 618.8 L1836.0 621.1 L1839.0 623.4 L1842.0 625.7 L1845.0 628.0 L1848.0 630.3 L1851.0 632.6 L1854.0 634.9 L1857.0 637.2 L1860.0 639.4 L1863.0 641.7 L1866.0 643.9 L1869.0 646.2 L1872.0 648.5 L1875.0 650.7 L1878.0 652.9 L1881.0 655.2 L1884.0 657.4 L1887.0 659.7 L1890.0 661.9 L1893.0 664.1 L1896.0 666.3 L1899.0 668.6 L1902.0 670.8 L1905.0 673.0 L1908.0 675.2 L1911.0 677.4 L1914.0 679.7 L1917.0 681.9 L1920.0 684.1 L1923.0 686.3 L1926.0 688.5 L1929.0 690.7 L1932.0 692.9 L1935.0 695.1 L1938.0 697.3 L1941.0 699.5 L1944.0 701.7 L1947.0 703.9 L1950.0 706.1 L1953.0 708.3 L1956.0 710.5 L1959.0 712.7 L1962.0 714.9 L1965.0 717.1 L1968.0 719.2 L1971.0 721.4 L1974.0 723.6 L1977.0 725.8 L1980.0 728.0 L1983.0 730.2 L1986.0 732.4 L1989.0 734.6 L1992.0 736.7 L1995.0 738.9 L1998.0 741.1" fill="none" stroke="#ff0000" stroke-width="5.0" stroke-linejoin="round"/>
<path d="M1206.0 667.8 L1209.0 673.1 L1212.0 678.3 L1215.0 683.6 L1218.0 688.8 L1221.0 694.0 L1224.0 699.2 L1227.0 704.4 L1230.0 709.6 L1233.0 714.8 L1236.0 719.9 L1239.0 725.0 L1242.0 730.1 L1245.0 735.2 L1248.0 740.3 L1251.0 745.3 L1254.0 750.4 L1257.0 755.4 L1260.0 760.4 L1263.0 765.3 L1266.0 770.3 L1269.0 775.2 L1272.0 780.1 L1275.0 784.9 L1278.0 789.8 L1281.0 794.6 L1284.0 799.3 L1287.0 804.1 L1290.0 808.8 L1293.0 813.5 L1296.0 818.1 L1299.0 822.7 L1302.0 827.2 L1305.0 831.8 L1308.0 836.2 L1311.0 840.7 L1314.0 845.1 L1317.0 849.4 L1320.0 853.7 L1323.0 857.9 L1326.0 862.1 L1329.0 866.3 L1332.0 870.4 L1335.0 874.4 L1338.0 878.4 L1341.0 882.4 L1344.0 886.3 L1347.0 890.1 L1350.0 893.9 L1353.0 897.7 L1356.0 901.3 L1359.0 905.0 L1362.0 908.5 L1365.0 912.1 L1368.0 915.5 L1371.0 918.9 L1374.0 922.3 L1377.0 925.6 L1380.0 928.9 L1383.0 932.1 L1386.0 935.2 L1389.0 938.3 L1392.0 941.4 L1395.0 944.4 L1398.0 947.3 L1401.0 950.2 L1404.0 953.1 L1407.0 955.9 L1410.0 958.6 L1413.0 961.4 L1416.0 964.0 L1419.0 966.7 L1422.0 969.2 L1425.0 971.8 L1428.0 974.3 L1431.0 976.7 L1434.0 979.1 L1437.0 981.5 L1440.0 983.8 L1443.0 986.1 L1446.0 988.4 L1449.0 990.6 L1452.0 992.7 L1455.0 994.9 L1458.0 997.0 L1461.0 999.0 L1464.0 1001.1 L1467.0 1003.1 L1470.0 1005.0 L1473.0 1007.0 L1476.0 1008.9 L1479.0 1010.7 L1482.0 1012.6 L1485.0 1014.4 L1488.0 1016.1 L1491.0 1017.9 L1494.0 1019.6 L1497.0 1021.3 L1500.0 1022.9 L1503.0 1024.6 L1506.0 1026.2 L1509.0 1027.7 L1512.0 1029.3 L1515.0 1030.8 L1518.0 1032.3 L1521.0 1033.8 L1524.0 1035.3 L1527.0 1036.7 L1530.0 1038.1 L1533.0 1039.5 L1536.0 1040.9 L1539.0 1042.2 L1542.0 1043.6 L1545.0 1044.9 L1548.0 1046.2 L1551.0 1047.4 L1554.0 1048.7 L1557.0 1049.9 L1560.0 1051.2 L1563.0 1052.4 L1566.0 1053.5 L1569.0 1054.7 L1572.0 1055.9 L1575.0 1057.0 L1578.0 1058.1 L1581.0 1059.2 L1584.0 1060.3 L1587.0 1061.4 L1590.0 1062.5 L1593.0 1063.5 L1596.0 1064.6 L1599.0 1065.6 L1602.0 1066.6 L1605.0 1067.6 L1608.0 1068.6 L1611.0 1069.6 L1614.0 1070.6 L1617.0 1071.5 L1620.0 1072.4 L1623.0 1073.4 L1626.0 1074.3 L1629.0 1075.2 L1632.0 1076.1 L1635.0 1077.0 L1638.0 1077.9 L1641.0 1078.7 L1644.0 1079.6 L1647.0 1080.4 L1650.0 1081.3 L1653.0 1082.1 L1656.0 1082.9 L1659.0 1083.7 L1662.0 1084.5 L1665.0 1085.3 L1668.0 1086.1 L1671.0 1086.8 L1674.0 1087.6 L1677.0 1088.3 L1680.0 1089.1 L1683.0 1089.8 L1686.0 1090.5 L1689.0 1091.3 L1692.0 1092.0 L1695.0 1092.7 L1698.0 1093.4 L1701.0 1094.0 L1704.0 1094.7 L1707.0 1095.4 L1710.0 1096.1 L1713.0 1096.7 L1716.0 1097.4 L1719.0 1098.0 L1722.0 1098.6 L1725.0 1099.3 L1728.0 1099.9 L1731.0 1100.5 L1734.0 1101.1 L1737.0 1101.7 L1740.0 1102.3 L1743.0 1102.9 L1746.0 1103.5 L1749.0 1104.0 L1752.0 1104.6 L1755.0 1105.1 L1758.0 1105.7 L1761.0 1106.2 L1764.0 1106.8 L1767.0 1107.3 L1770.0 1107.8 L1773.0 1108.3 L1776.0 1108.8 L1779.0 1109.3 L1782.0 1109.8 L1785.0 1110.3 L1788.0 1110.8 L1791.0 1111.3 L1794.0 1111.8 L1797.0 1112.2 L1800.0 1112.7 L1803.0 1113.1 L1806.0 1113.6 L1809.0 1114.0 L1812.0 1114.5 L1815.0 1114.9 L1818.0 1115.3 L1821.0 1115.8 L1824.0 1116.2 L1827.0 1116.6 L1830.0 1117.0 L1833.0 1117.4 L1836.0 1117.8 L1839.0 1118.2 L1842.0 1118.6 L1845.0 1119.0 L1848.0 1119.4 L1851.0 1119.8 L1854.0 1120.2 L1857.0 1120.5 L1860.0 1120.9 L1863.0 1121.3 L1866.0 1121.7 L1869.0 1122.0 L1872.0 1122.4 L1875.0 1122.7 L1878.0 1123.1 L1881.0 1123.5 L1884.0 1123.8 L1887.0 1124.2 L1890.0 1124.5 L1893.0 1124.9 L1896.0 1125.2 L1899.0 1125.6 L1902.0 1125.9 L1905.0 1126.3 L1908.0 1126.6 L1911.0 1126.9 L1914.0 1127.3 L1917.0 1127.6 L1920.0 1127.9 L1923.0 1128.3 L1926.0 1128.6 L1929.0 1129.0 L1932.0 1129.3 L1935.0 1129.6 L1938.0 1129.9 L1941.0 1130.3 L1944.0 1130.6 L1947.0 1130.9 L1950.0 1131.3 L1953.0 1131.6 L1956.0 1131.9 L1959.0 1132.2 L1962.0 1132.6 L1965.0 1132.9 L1968.0 1133.2 L1971.0 1133.5 L1974.0 1133.9 L1977.0 1134.2 L1980.0 1134.5 L1983.0 1134.8 L1986.0 1135.1 L1989.0 1135.4 L1992.0 1135.8 L1995.0 1136.1 L1998.0 1136.4" fill="none" stroke="#0000ff" stroke-width="5.0" stroke-linejoin="round"/>
<path d="M1206.0 420.2 L1209.0 425.1 L1212.0 430.1 L1215.0 435.0 L1218.0 439.9 L1221.0 444.8 L1224.0 449.6 L1227.0 454.5 L1230.0 459.3 L1233.0 464.1 L1236.0 468.9 L1239.0 473.6 L1242.0 478.4 L1245.0 483.1 L1248.0 487.8 L1251.0 492.5 L1254.0 497.2 L1257.0 501.8 L1260.0 506.4 L1263.0 511.0 L1266.0 515.6 L1269.0 520.2 L1272.0 524.7 L1275.0 529.2 L1278.0 533.7 L1281.0 538.2 L1284.0 542.6 L1287.0 547.0 L1290.0 551.4 L1293.0 555.8 L1296.0 560.1 L1299.0 564.4 L1302.0 568.7 L1305.0 573.0 L1308.0 577.2 L1311.0 581.4 L1314.0 585.6 L1317.0 589.7 L1320.0 593.8 L1323.0 597.9 L1326.0 601.9 L1329.0 605.9 L1332.0 609.9 L1335.0 613.8 L1338.0 617.7 L1341.0 621.6 L1344.0 625.4 L1347.0 629.2 L1350.0 633.0 L1353.0 636.7 L1356.0 640.3 L1359.0 644.0 L1362.0 647.6 L1365.0 651.1 L1368.0 654.6 L1371.0 658.1 L1374.0 661.5 L1377.0 664.9 L1380.0 668.2 L1383.0 671.5 L1386.0 674.7 L1389.0 677.9 L1392.0 681.1 L1395.0 684.2 L1398.0 687.2 L1401.0 690.2 L1404.0 693.2 L1407.0 696.1 L1410.0 699.0 L1413.0 701.8 L1416.0 704.6 L1419.0 707.4 L1422.0 710.1 L1425.0 712.7 L1428.0 715.3 L1431.0 717.9 L1434.0 720.4 L1437.0 722.9 L1440.0 725.3 L1443.0 727.7 L1446.0 730.1 L1449.0 732.4 L1452.0 734.7 L1455.0 736.9 L1458.0 739.1 L1461.0 741.3 L1464.0 743.4 L1467.0 745.5 L1470.0 747.5 L1473.0 749.6 L1476.0 751.5 L1479.0 753.5 L1482.0 755.4 L1485.0 757.3 L1488.0 759.2 L1491.0 761.0 L1494.0 762.8 L1497.0 764.6 L1500.0 766.3 L1503.0 768.0 L1506.0 769.7 L1509.0 771.4 L1512.0 773.0 L1515.0 774.7 L1518.0 776.3 L1521.0 777.8 L1524.0 779.4 L1527.0 781.0 L1530.0 782.5 L1533.0 784.0 L1536.0 785.5 L1539.0 786.9 L1542.0 788.4 L1545.0 789.8 L1548.0 791.3 L1551.0 792.7 L1554.0 794.1 L1557.0 795.5 L1560.0 796.9 L1563.0 798.2 L1566.0 799.6 L1569.0 800.9 L1572.0 802.3 L1575.0 803.6 L1578.0 805.0 L1581.0 806.3 L1584.0 807.6 L1587.0 808.9 L1590.0 810.2 L1593.0 811.5 L1596.0 812.9 L1599.0 814.2 L1602.0 815.5 L1605.0 816.8 L1608.0 818.1 L1611.0 819.4 L1614.0 820.7 L1617.0 822.0 L1620.0 823.3 L1623.0 824.6 L1626.0 825.9 L1629.0 827.2 L1632.0 828.6 L1635.0 829.9 L1638.0 831.2 L1641.0 832.6 L1644.0 833.9 L1647.0 835.3 L1650.0 836.7 L1653.0 838.0 L1656.0 839.4 L1659.0 840.8 L1662.0 842.2 L1665.0 843.6 L1668.0 845.0 L1671.0 846.5 L1674.0 847.9 L1677.0 849.4 L1680.0 850.8 L1683.0 852.3 L1686.0 853.8 L1689.0 855.3 L1692.0 856.8 L1695.0 858.3 L1698.0 859.8 L1701.0 861.3 L1704.0 862.9 L1707.0 864.4 L1710.0 866.0 L1713.0 867.5 L1716.0 869.1 L1719.0 870.7 L1722.0 872.3 L1725.0 873.9 L1728.0 875.5 L1731.0 877.1 L1734.0 878.7 L1737.0 880.3 L1740.0 881.9 L1743.0 883.5 L1746.0 885.2 L1749.0 886.8 L1752.0 888.4 L1755.0 890.1 L1758.0 891.7 L1761.0 893.4 L1764.0 895.0 L1767.0 896.6 L1770.0 898.3 L1773.0 899.9 L1776.0 901.5 L1779.0 903.2 L1782.0 904.8 L1785.0 906.4 L1788.0 908.0 L1791.0 909.6 L1794.0 911.3 L1797.0 912.9 L1800.0 914.4 L1803.0 916.0 L1806.0 917.6 L1809.0 919.2 L1812.0 920.7 L1815.0 922.3 L1818.0 923.8 L1821.0 925.4 L1824.0 926.9 L1827.0 928.4 L1830.0 929.9 L1833.0 931.4 L1836.0 932.9 L1839.0 934.4 L1842.0 935.8 L1845.0 937.3 L1848.0 938.7 L1851.0 940.2 L1854.0 941.6 L1857.0 943.0 L1860.0 944.4 L1863.0 945.8 L1866.0 947.2 L1869.0 948.5 L1872.0 949.9 L1875.0 951.2 L1878.0 952.6 L1881.0 953.9 L1884.0 955.2 L1887.0 956.5 L1890.0 957.8 L1893.0 959.1 L1896.0 960.4 L1899.0 961.6 L1902.0 962.9 L1905.0 964.1 L1908.0 965.4 L1911.0 966.6 L1914.0 967.8 L1917.0 969.0 L1920.0 970.2 L1923.0 971.4 L1926.0 972.6 L1929.0 973.8 L1932.0 975.0 L1935.0 976.1 L1938.0 977.3 L1941.0 978.4 L1944.0 979.6 L1947.0 980.7 L1950.0 981.8 L1953.0 982.9 L1956.0 984.0 L1959.0 985.1 L1962.0 986.2 L1965.0 987.3 L1968.0 988.3 L1971.0 989.4 L1974.0 990.5 L1977.0 991.5 L1980.0 992.5 L1983.0 993.6 L1986.0 994.6 L1989.0 995.6 L1992.0 996.6 L1995.0 997.6 L1998.0 998.6" fill="none" stroke="#0000ff" stroke-width="5.0" stroke-linejoin="round"/>
<path d="M1206.0 228.8 L1209.0 231.2 L1212.0 233.6 L1215.0 236.0 L1218.0 238.5 L1221.0 241.0 L1224.0 243.5 L1227.0 246.0 L1230.0 248.6 L1233.0 251.2 L1236.0 253.9 L1239.0 256.5 L1242.0 259.3 L1245.0 262.0 L1248.0 264.8 L1251.0 267.6 L1254.0 270.4 L1257.0 273.3 L1260.0 276.2 L1263.0 279.1 L1266.0 282.0 L1269.0 285.0 L1272.0 288.1 L1275.0 291.1 L1278.0 294.2 L1281.0 297.3 L1284.0 300.5 L1287.0 303.7 L1290.0 306.9 L1293.0 310.1 L1296.0 313.4 L1299.0 316.8 L1302.0 320.1 L1305.0 323.5 L1308.0 327.0 L1311.0 330.5 L1314.0 334.0 L1317.0 337.5 L1320.0 341.1 L1323.0 344.8 L1326.0 348.4 L1329.0 352.2 L1332.0 355.9 L1335.0 359.7 L1338.0 363.6 L1341.0 367.5 L1344.0 371.4 L1347.0 375.4 L1350.0 379.4 L1353.0 383.5 L1356.0 387.6 L1359.0 391.7 L1362.0 395.9 L1365.0 400.2 L1368.0 404.5 L1371.0 408.8 L1374.0 413.2 L1377.0 417.7 L1380.0 422.1 L1383.0 426.6 L1386.0 431.2 L1389.0 435.8 L1392.0 440.4 L1395.0 445.1 L1398.0 449.8 L1401.0 454.5 L1404.0 459.3 L1407.0 464.1 L1410.0 469.0 L1413.0 473.8 L1416.0 478.7 L1419.0 483.6 L1422.0 488.6 L1425.0 493.5 L1428.0 498.5 L1431.0 503.5 L1434.0 508.5 L1437.0 513.5 L1440.0 518.5 L1443.0 523.6 L1446.0 528.6 L1449.0 533.6 L1452.0 538.7 L1455.0 543.7 L1458.0 548.8 L1461.0 553.8 L1464.0 558.8 L1467.0 563.8 L1470.0 568.9 L1473.0 573.8 L1476.0 578.8 L1479.0 583.8 L1482.0 588.7 L1485.0 593.6 L1488.0 598.5 L1491.0 603.4 L1494.0 608.3 L1497.0 613.1 L1500.0 617.8 L1503.0 622.6 L1506.0 627.3 L1509.0 632.0 L1512.0 636.6 L1515.0 641.3 L1518.0 645.8 L1521.0 650.3 L1524.0 654.8 L1527.0 659.3 L1530.0 663.6 L1533.0 668.0 L1536.0 672.3 L1539.0 676.5 L1542.0 680.7 L1545.0 684.9 L1548.0 689.0 L1551.0 693.0 L1554.0 697.0 L1557.0 701.0 L1560.0 704.9 L1563.0 708.7 L1566.0 712.5 L1569.0 716.2 L1572.0 719.9 L1575.0 723.6 L1578.0 727.1 L1581.0 730.7 L1584.0 734.1 L1587.0 737.6 L1590.0 740.9 L1593.0 744.2 L1596.0 747.5 L1599.0 750.7 L1602.0 753.9 L1605.0 757.0 L1608.0 760.1 L1611.0 763.1 L1614.0 766.1 L1617.0 769.0 L1620.0 771.9 L1623.0 774.7 L1626.0 777.5 L1629.0 780.2 L1632.0 782.9 L1635.0 785.5 L1638.0 788.1 L1641.0 790.7 L1644.0 793.2 L1647.0 795.7 L1650.0 798.1 L1653.0 800.5 L1656.0 802.8 L1659.0 805.1 L1662.0 807.4 L1665.0 809.6 L1668.0 811.8 L1671.0 813.9 L1674.0 816.0 L1677.0 818.0 L1680.0 820.0 L1683.0 821.9 L1686.0 823.8 L1689.0 825.7 L1692.0 827.5 L1695.0 829.3 L1698.0 831.0 L1701.0 832.7 L1704.0 834.4 L1707.0 836.0 L1710.0 837.6 L1713.0 839.1 L1716.0 840.6 L1719.0 842.0 L1722.0 843.4 L1725.0 844.8 L1728.0 846.1 L1731.0 847.4 L1734.0 848.6 L1737.0 849.9 L1740.0 851.0 L1743.0 852.2 L1746.0 853.3 L1749.0 854.4 L1752.0 855.4 L1755.0 856.4 L1758.0 857.4 L1761.0 858.3 L1764.0 859.2 L1767.0 860.1 L1770.0 861.0 L1773.0 861.8 L1776.0 862.6 L1779.0 863.4 L1782.0 864.2 L1785.0 864.9 L1788.0 865.6 L1791.0 866.3 L1794.0 867.0 L1797.0 867.7 L1800.0 868.3 L1803.0 868.9 L1806.0 869.6 L1809.0 870.2 L1812.0 870.7 L1815.0 871.3 L1818.0 871.9 L1821.0 872.4 L1824.0 873.0 L1827.0 873.5 L1830.0 874.0 L1833.0 874.5 L1836.0 875.0 L1839.0 875.5 L1842.0 876.0 L1845.0 876.5 L1848.0 876.9 L1851.0 877.4 L1854.0 877.9 L1857.0 878.3 L1860.0 878.8 L1863.0 879.3 L1866.0 879.7 L1869.0 880.2 L1872.0 880.6 L1875.0 881.1 L1878.0 881.5 L1881.0 881.9 L1884.0 882.4 L1887.0 882.8 L1890.0 883.3 L1893.0 883.7 L1896.0 884.2 L1899.0 884.6 L1902.0 885.1 L1905.0 885.5 L1908.0 885.9 L1911.0 886.4 L1914.0 886.8 L1917.0 887.3 L1920.0 887.7 L1923.0 888.2 L1926.0 888.6 L1929.0 889.1 L1932.0 889.6 L1935.0 890.0 L1938.0 890.5 L1941.0 891.0 L1944.0 891.4 L1947.0 891.9 L1950.0 892.4 L1953.0 892.8 L1956.0 893.3 L1959.0 893.8 L1962.0 894.3 L1965.0 894.8 L1968.0 895.3 L1971.0 895.8 L1974.0 896.2 L1977.0 896.7 L1980.0 897.2 L1983.0 897.7 L1986.0 898.2 L1989.0 898.8 L1992.0 899.3 L1995.0 899.8 L1998.0 900.3" fill="none" stroke="#0000ff" stroke-width="5.0" stroke-linejoin="round"/>
<path d="M1206.0 228.8 L1209.0 230.4 L1212.0 232.1 L1215.0 233.8 L1218.0 235.4 L1221.0 237.1 L1224.0 238.8 L1227.0 240.4 L1230.0 242.1 L1233.0 243.8 L1236.0 245.5 L1239.0 247.2 L1242.0 248.9 L1245.0 250.6 L1248.0 252.3 L1251.0 254.0 L1254.0 255.7 L1257.0 257.4 L1260.0 259.2 L1263.0 260.9 L1266.0 262.6 L1269.0 264.4 L1272.0 266.1 L1275.0 267.8 L1278.0 269.6 L1281.0 271.3 L1284.0 273.1 L1287.0 274.9 L1290.0 276.6 L1293.0 278.4 L1296.0 280.2 L1299.0 281.9 L1302.0 283.7 L1305.0 285.5 L1308.0 287.3 L1311.0 289.1 L1314.0 290.9 L1317.0 292.7 L1320.0 294.5 L1323.0 296.3 L1326.0 298.1 L1329.0 299.9 L1332.0 301.7 L1335.0 303.6 L1338.0 305.4 L1341.0 307.2 L1344.0 309.0 L1347.0 310.9 L1350.0 312.7 L1353.0 314.6 L1356.0 316.4 L1359.0 318.3 L1362.0 320.1 L1365.0 322.0 L1368.0 323.8 L1371.0 325.7 L1374.0 327.5 L1377.0 329.4 L1380.0 331.3 L1383.0 333.2 L1386.0 335.0 L1389.0 336.9 L1392.0 338.8 L1395.0 340.7 L1398.0 342.6 L1401.0 344.5 L1404.0 346.4 L1407.0 348.3 L1410.0 350.2 L1413.0 352.1 L1416.0 354.0 L1419.0 355.9 L1422.0 357.8 L1425.0 359.8 L1428.0 361.7 L1431.0 363.6 L1434.0 365.6 L1437.0 367.5 L1440.0 369.4 L1443.0 371.4 L1446.0 373.3 L1449.0 375.3 L1452.0 377.3 L1455.0 379.2 L1458.0 381.2 L1461.0 383.2 L1464.0 385.2 L1467.0 387.2 L1470.0 389.2 L1473.0 391.2 L1476.0 393.2 L1479.0 395.2 L1482.0 397.2 L1485.0 399.3 L1488.0 401.3 L1491.0 403.4 L1494.0 405.4 L1497.0 407.5 L1500.0 409.6 L1503.0 411.6 L1506.0 413.7 L1509.0 415.8 L1512.0 417.9 L1515.0 420.0 L1518.0 422.1 L1521.0 424.3 L1524.0 426.4 L1527.0 428.6 L1530.0 430.7 L1533.0 432.9 L1536.0 435.0 L1539.0 437.2 L1542.0 439.4 L1545.0 441.6 L1548.0 443.8 L1551.0 446.0 L1554.0 448.3 L1557.0 450.5 L1560.0 452.7 L1563.0 455.0 L1566.0 457.2 L1569.0 459.5 L1572.0 461.8 L1575.0 464.1 L1578.0 466.4 L1581.0 468.7 L1584.0 471.0 L1587.0 473.3 L1590.0 475.7 L1593.0 478.0 L1596.0 480.3 L1599.0 482.7 L1602.0 485.0 L1605.0 487.4 L1608.0 489.8 L1611.0 492.2 L1614.0 494.6 L1617.0 496.9 L1620.0 499.3 L1623.0 501.7 L1626.0 504.2 L1629.0 506.6 L1632.0 509.0 L1635.0 511.4 L1638.0 513.8 L1641.0 516.2 L1644.0 518.7 L1647.0 521.1 L1650.0 523.5 L1653.0 526.0 L1656.0 528.4 L1659.0 530.8 L1662.0 533.3 L1665.0 535.7 L1668.0 538.1 L1671.0 540.5 L1674.0 543.0 L1677.0 545.4 L1680.0 547.8 L1683.0 550.3 L1686.0 552.7 L1689.0 555.1 L1692.0 557.5 L1695.0 559.9 L1698.0 562.3 L1701.0 564.7 L1704.0 567.1 L1707.0 569.5 L1710.0 571.9 L1713.0 574.3 L1716.0 576.7 L1719.0 579.0 L1722.0 581.4 L1725.0 583.8 L1728.0 586.1 L1731.0 588.5 L1734.0 590.8 L1737.0 593.2 L1740.0 595.5 L1743.0 597.9 L1746.0 600.2 L1749.0 602.5 L1752.0 604.9 L1755.0 607.2 L1758.0 609.5 L1761.0 611.8 L1764.0 614.1 L1767.0 616.5 L1770.0 618.8 L1773.0 621.1 L1776.0 623.4 L1779.0 625.7 L1782.0 628.0 L1785.0 630.3 L1788.0 632.6 L1791.0 634.9 L1794.0 637.2 L1797.0 639.5 L1800.0 641.7 L1803.0 644.0 L1806.0 646.3 L1809.0 648.6 L1812.0 650.9 L1815.0 653.2 L1818.0 655.5 L1821.0 657.8 L1824.0 660.1 L1827.0 662.4 L1830.0 664.7 L1833.0 666.9 L1836.0 669.2 L1839.0 671.5 L1842.0 673.8 L1845.0 676.1 L1848.0 678.4 L1851.0 680.7 L1854.0 683.0 L1857.0 685.2 L1860.0 687.5 L1863.0 689.8 L1866.0 692.1 L1869.0 694.4 L1872.0 696.6 L1875.0 698.9 L1878.0 701.2 L1881.0 703.5 L1884.0 705.7 L1887.0 708.0 L1890.0 710.3 L1893.0 712.6 L1896.0 714.8 L1899.0 717.1 L1902.0 719.3 L1905.0 721.6 L1908.0 723.9 L1911.0 726.1 L1914.0 728.4 L1917.0 730.6 L1920.0 732.9 L1923.0 735.1 L1926.0 737.4 L1929.0 739.6 L1932.0 741.8 L1935.0 744.1 L1938.0 746.3 L1941.0 748.5 L1944.0 750.8 L1947.0 753.0 L1950.0 755.2 L1953.0 757.4 L1956.0 759.6 L1959.0 761.8 L1962.0 764.0 L1965.0 766.2 L1968.0 768.4 L1971.0 770.6 L1974.0 772.8 L1977.0 775.0 L1980.0 777.2 L1983.0 779.4 L1986.0 781.6 L1989.0 783.8 L1992.0 786.0 L1995.0 788.1 L1998.0 790.3" fill="none" stroke="#0000ff" stroke-width="5.0" stroke-linejoin="round"/>
<text transform="translate(242.43,89.04) scale(0.9998,1.0000)" font-size="54.88" font-weight="normal" fill="#000">(a)</text>
<text transform="translate(1208.53,86.04) scale(0.9995,1.0000)" font-size="54.88" font-weight="normal" fill="#000">(b)</text>
<text transform="translate(567.35,1394.29) scale(0.9895,1.0000)" font-size="55.10" font-weight="normal" fill="#000">h(nm)</text>
<text transform="translate(1530.36,1387.19) scale(0.9949,1.0000)" font-size="55.10" font-weight="normal" fill="#000">R(nm)</text>
<text transform="translate(71.94,769.67) rotate(-90) scale(1.0013,0.9977)" font-size="60.7" fill="#000">Energy (meV)</text>
</g>
<rect x="577" y="81.7" width="124.5" height="5.6" fill="#000000"/>
<text transform="translate(713.18,102.90) scale(0.9894,1)" font-size="52.98" font-weight="bold" fill="#000000" stroke="#000000">F=5 kV/cm</text>
<rect x="577" y="148.7" width="124.5" height="5.6" fill="#ff0000"/>
<text transform="translate(713.18,169.95) scale(0.9894,1)" font-size="52.98" font-weight="bold" fill="#ff0000" stroke="#ff0000">F=10 kV/cm</text>
<rect x="577" y="215.7" width="124.5" height="5.6" fill="#0000ff"/>
<text transform="translate(713.18,237.00) scale(0.9894,1)" font-size="52.98" font-weight="bold" fill="#0000ff" stroke="#0000ff">F=15 kV/cm</text>
<g stroke="#000">
<ellipse cx="566.35" cy="428.1" rx="19.0" ry="85.5" fill="none" stroke="#000" stroke-width="4.8"/>
<ellipse cx="606.3" cy="652.7" rx="18.7" ry="83.8" fill="none" stroke="#000" stroke-width="4.8"/>
<ellipse cx="660.0" cy="835.5" rx="14.1" ry="74.9" fill="none" stroke="#000" stroke-width="4.8"/>
<ellipse cx="722.5" cy="1018.3" rx="19.3" ry="85.7" fill="none" stroke="#000" stroke-width="4.8"/>
<ellipse cx="1663" cy="467.9" rx="21.0" ry="84.0" fill="none" stroke="#000" stroke-width="4.8"/>
<ellipse cx="1450" cy="486.2" rx="21.2" ry="82.9" fill="none" stroke="#000" stroke-width="4.8"/>
<ellipse cx="1458.4" cy="686.3" rx="21.2" ry="83.8" fill="none" stroke="#000" stroke-width="4.8"/>
<ellipse cx="1582.2" cy="1009.5" rx="21.2" ry="83.5" fill="none" stroke="#000" stroke-width="4.8"/>
</g>
<line x1="655.8" y1="312.3" x2="609.5" y2="347.0" stroke="#000" stroke-width="1.3"/><polygon points="585.9,364.7 605.3,341.4 613.7,352.6" fill="#000"/>
<line x1="803.8" y1="470.2" x2="653.9" y2="592.0" stroke="#000" stroke-width="1.3"/><polygon points="631.0,610.6 649.5,586.6 658.3,597.4" fill="#000"/>
<line x1="442.2" y1="935.5" x2="615.5" y2="876.0" stroke="#000" stroke-width="1.3"/><polygon points="643.4,866.4 617.8,882.6 613.2,869.4" fill="#000"/>
<line x1="603.8" y1="1111.7" x2="667.7" y2="1083.7" stroke="#000" stroke-width="1.3"/><polygon points="694.7,1071.8 670.5,1090.0 664.9,1077.3" fill="#000"/>
<line x1="1829.1" y1="348.3" x2="1710.6" y2="404.9" stroke="#000" stroke-width="1.3"/><polygon points="1684.0,417.6 1707.6,398.6 1713.6,411.2" fill="#000"/>
<line x1="1549.6" y1="518.5" x2="1499.8" y2="479.7" stroke="#000" stroke-width="1.3"/><polygon points="1476.5,461.6 1504.0,474.2 1495.5,485.2" fill="#000"/>
<line x1="1484.4" y1="848.9" x2="1468.7" y2="806.5" stroke="#000" stroke-width="1.3"/><polygon points="1458.4,778.8 1475.2,804.0 1462.1,808.9" fill="#000"/>
<line x1="1492.9" y1="1117.9" x2="1545.4" y2="1104.0" stroke="#000" stroke-width="1.3"/><polygon points="1573.9,1096.4 1547.2,1110.7 1543.6,1097.3" fill="#000"/>
<g stroke="#000">
<text transform="translate(663.84,319.10) scale(0.9924,1.0000)" font-size="61.22" font-weight="bold" fill="#000">E</text><text transform="translate(704.52,336.00) scale(0.8961,1.0000)" font-size="42.74" font-weight="bold" fill="#000">4</text>
<text transform="translate(810.34,464.00) scale(0.9924,1.0000)" font-size="61.22" font-weight="bold" fill="#000">E</text><text transform="translate(848.77,480.78) scale(1.0376,1.0000)" font-size="41.93" font-weight="bold" fill="#000">3</text>
<text transform="translate(396.74,961.60) scale(0.9924,1.0000)" font-size="61.22" font-weight="bold" fill="#000">E</text><text transform="translate(436.07,978.70) scale(1.0169,1.0000)" font-size="42.42" font-weight="bold" fill="#000">2</text>
<text transform="translate(556.34,1131.50) scale(0.9924,1.0000)" font-size="61.22" font-weight="bold" fill="#000">E</text><text transform="translate(594.46,1148.30) scale(1.0134,1.0000)" font-size="42.42" font-weight="bold" fill="#000">1</text>
<text transform="translate(1838.94,364.10) scale(0.9924,1.0000)" font-size="61.22" font-weight="bold" fill="#000">E</text><text transform="translate(1878.05,380.50) scale(0.9963,1.0000)" font-size="42.74" font-weight="normal" fill="#000">4</text>
<text transform="translate(1556.84,550.10) scale(0.9924,1.0000)" font-size="61.22" font-weight="bold" fill="#000">E</text><text transform="translate(1595.37,566.78) scale(1.0376,1.0000)" font-size="41.93" font-weight="bold" fill="#000">3</text>
<text transform="translate(1492.24,877.50) scale(0.9924,1.0000)" font-size="61.22" font-weight="bold" fill="#000">E</text><text transform="translate(1530.98,894.80) scale(1.0112,1.0000)" font-size="42.42" font-weight="bold" fill="#000">2</text>
<text transform="translate(1446.24,1146.20) scale(0.9924,1.0000)" font-size="61.22" font-weight="bold" fill="#000">E</text><text transform="translate(1485.45,1162.20) scale(0.9878,1.0000)" font-size="42.42" font-weight="bold" fill="#000">1</text>
</g>
</svg></body></html>
